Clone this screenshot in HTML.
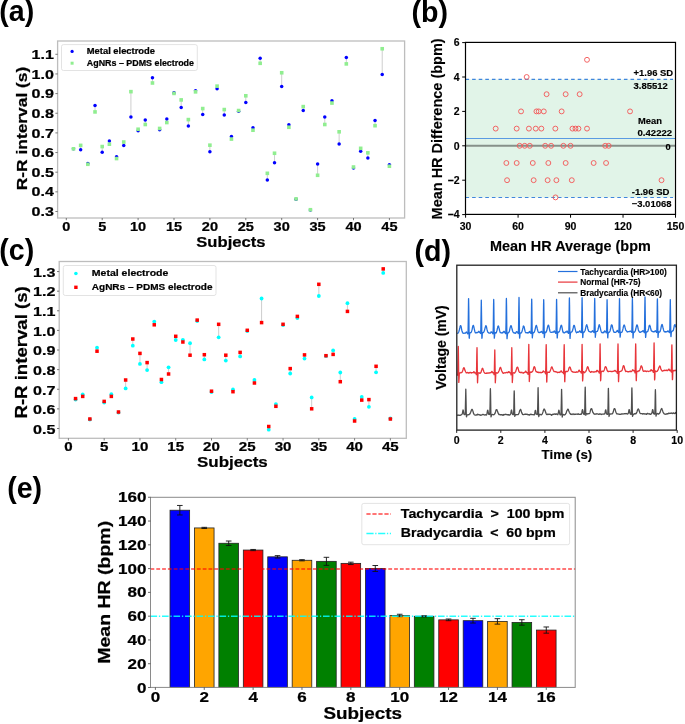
<!DOCTYPE html>
<html><head><meta charset="utf-8"><style>
html,body{margin:0;padding:0;background:#fff;}
svg{display:block;will-change:transform;}
text{font-family:"Liberation Sans",sans-serif;font-weight:bold;}
text.mpl{stroke:#000;stroke-width:0.22px;}
text.arl{stroke:#000;stroke-width:0.15px;}
</style></head><body>
<svg width="685" height="724" viewBox="0 0 685 724">
<rect x="0" y="0" width="685" height="724" fill="#fff"/>
<text x="-0.80" y="21.30" font-size="28.6" text-anchor="start" fill="#000" >(a)</text>
<text x="411.40" y="21.50" font-size="28.6" text-anchor="start" fill="#000" >(b)</text>
<text x="-0.70" y="259.60" font-size="28.6" text-anchor="start" fill="#000" >(c)</text>
<text x="414.60" y="260.70" font-size="28.6" text-anchor="start" fill="#000" >(d)</text>
<text x="7.20" y="498.00" font-size="28.6" text-anchor="start" fill="#000" >(e)</text>
<line x1="80.66" y1="149.70" x2="80.66" y2="145.38" stroke="#c8c8c8" stroke-width="0.9" />
<line x1="87.84" y1="163.56" x2="87.84" y2="164.27" stroke="#c8c8c8" stroke-width="0.9" />
<line x1="95.02" y1="105.62" x2="95.02" y2="111.92" stroke="#c8c8c8" stroke-width="0.9" />
<line x1="102.20" y1="152.26" x2="102.20" y2="146.56" stroke="#c8c8c8" stroke-width="0.9" />
<line x1="109.38" y1="141.05" x2="109.38" y2="144.19" stroke="#c8c8c8" stroke-width="0.9" />
<line x1="116.56" y1="156.79" x2="116.56" y2="158.56" stroke="#c8c8c8" stroke-width="0.9" />
<line x1="123.74" y1="145.38" x2="123.74" y2="142.03" stroke="#c8c8c8" stroke-width="0.9" />
<line x1="130.92" y1="117.04" x2="130.92" y2="91.65" stroke="#c8c8c8" stroke-width="0.9" />
<line x1="138.10" y1="130.81" x2="138.10" y2="129.24" stroke="#c8c8c8" stroke-width="0.9" />
<line x1="145.28" y1="119.99" x2="145.28" y2="124.51" stroke="#c8c8c8" stroke-width="0.9" />
<line x1="152.46" y1="77.87" x2="152.46" y2="82.99" stroke="#c8c8c8" stroke-width="0.9" />
<line x1="159.64" y1="129.63" x2="159.64" y2="128.45" stroke="#c8c8c8" stroke-width="0.9" />
<line x1="166.82" y1="119.00" x2="166.82" y2="122.55" stroke="#c8c8c8" stroke-width="0.9" />
<line x1="174.00" y1="92.63" x2="174.00" y2="93.42" stroke="#c8c8c8" stroke-width="0.9" />
<line x1="181.18" y1="107.39" x2="181.18" y2="99.91" stroke="#c8c8c8" stroke-width="0.9" />
<line x1="188.36" y1="126.09" x2="188.36" y2="119.59" stroke="#c8c8c8" stroke-width="0.9" />
<line x1="195.54" y1="90.86" x2="195.54" y2="91.85" stroke="#c8c8c8" stroke-width="0.9" />
<line x1="202.72" y1="114.48" x2="202.72" y2="108.57" stroke="#c8c8c8" stroke-width="0.9" />
<line x1="209.90" y1="151.87" x2="209.90" y2="145.18" stroke="#c8c8c8" stroke-width="0.9" />
<line x1="217.08" y1="88.70" x2="217.08" y2="86.14" stroke="#c8c8c8" stroke-width="0.9" />
<line x1="224.26" y1="115.07" x2="224.26" y2="109.56" stroke="#c8c8c8" stroke-width="0.9" />
<line x1="231.44" y1="136.52" x2="231.44" y2="139.08" stroke="#c8c8c8" stroke-width="0.9" />
<line x1="238.62" y1="111.33" x2="238.62" y2="110.54" stroke="#c8c8c8" stroke-width="0.9" />
<line x1="245.80" y1="102.47" x2="245.80" y2="95.78" stroke="#c8c8c8" stroke-width="0.9" />
<line x1="252.98" y1="127.66" x2="252.98" y2="130.22" stroke="#c8c8c8" stroke-width="0.9" />
<line x1="260.16" y1="58.19" x2="260.16" y2="63.31" stroke="#c8c8c8" stroke-width="0.9" />
<line x1="267.34" y1="180.01" x2="267.34" y2="173.32" stroke="#c8c8c8" stroke-width="0.9" />
<line x1="274.52" y1="162.69" x2="274.52" y2="153.25" stroke="#c8c8c8" stroke-width="0.9" />
<line x1="281.70" y1="86.53" x2="281.70" y2="72.76" stroke="#c8c8c8" stroke-width="0.9" />
<line x1="288.88" y1="124.71" x2="288.88" y2="127.27" stroke="#c8c8c8" stroke-width="0.9" />
<line x1="303.24" y1="110.54" x2="303.24" y2="106.61" stroke="#c8c8c8" stroke-width="0.9" />
<line x1="317.60" y1="164.07" x2="317.60" y2="175.29" stroke="#c8c8c8" stroke-width="0.9" />
<line x1="324.78" y1="117.04" x2="324.78" y2="124.51" stroke="#c8c8c8" stroke-width="0.9" />
<line x1="331.96" y1="100.70" x2="331.96" y2="103.06" stroke="#c8c8c8" stroke-width="0.9" />
<line x1="339.14" y1="144.00" x2="339.14" y2="131.80" stroke="#c8c8c8" stroke-width="0.9" />
<line x1="346.32" y1="57.60" x2="346.32" y2="63.90" stroke="#c8c8c8" stroke-width="0.9" />
<line x1="353.50" y1="168.01" x2="353.50" y2="167.02" stroke="#c8c8c8" stroke-width="0.9" />
<line x1="360.68" y1="151.28" x2="360.68" y2="148.33" stroke="#c8c8c8" stroke-width="0.9" />
<line x1="367.86" y1="157.97" x2="367.86" y2="152.85" stroke="#c8c8c8" stroke-width="0.9" />
<line x1="375.04" y1="120.58" x2="375.04" y2="125.70" stroke="#c8c8c8" stroke-width="0.9" />
<line x1="382.22" y1="74.53" x2="382.22" y2="48.75" stroke="#c8c8c8" stroke-width="0.9" />
<line x1="389.40" y1="164.66" x2="389.40" y2="166.24" stroke="#c8c8c8" stroke-width="0.9" />
<circle cx="73.48" cy="148.80" r="1.75" fill="#0000ff"/>
<circle cx="80.66" cy="149.70" r="1.75" fill="#0000ff"/>
<circle cx="87.84" cy="163.56" r="1.75" fill="#0000ff"/>
<circle cx="95.02" cy="105.62" r="1.75" fill="#0000ff"/>
<circle cx="102.20" cy="152.26" r="1.75" fill="#0000ff"/>
<circle cx="109.38" cy="141.05" r="1.75" fill="#0000ff"/>
<circle cx="116.56" cy="156.79" r="1.75" fill="#0000ff"/>
<circle cx="123.74" cy="145.38" r="1.75" fill="#0000ff"/>
<circle cx="130.92" cy="117.04" r="1.75" fill="#0000ff"/>
<circle cx="138.10" cy="130.81" r="1.75" fill="#0000ff"/>
<circle cx="145.28" cy="119.99" r="1.75" fill="#0000ff"/>
<circle cx="152.46" cy="77.87" r="1.75" fill="#0000ff"/>
<circle cx="159.64" cy="129.63" r="1.75" fill="#0000ff"/>
<circle cx="166.82" cy="119.00" r="1.75" fill="#0000ff"/>
<circle cx="174.00" cy="92.63" r="1.75" fill="#0000ff"/>
<circle cx="181.18" cy="107.39" r="1.75" fill="#0000ff"/>
<circle cx="188.36" cy="126.09" r="1.75" fill="#0000ff"/>
<circle cx="195.54" cy="90.86" r="1.75" fill="#0000ff"/>
<circle cx="202.72" cy="114.48" r="1.75" fill="#0000ff"/>
<circle cx="209.90" cy="151.87" r="1.75" fill="#0000ff"/>
<circle cx="217.08" cy="88.70" r="1.75" fill="#0000ff"/>
<circle cx="224.26" cy="115.07" r="1.75" fill="#0000ff"/>
<circle cx="231.44" cy="136.52" r="1.75" fill="#0000ff"/>
<circle cx="238.62" cy="111.33" r="1.75" fill="#0000ff"/>
<circle cx="245.80" cy="102.47" r="1.75" fill="#0000ff"/>
<circle cx="252.98" cy="127.66" r="1.75" fill="#0000ff"/>
<circle cx="260.16" cy="58.19" r="1.75" fill="#0000ff"/>
<circle cx="267.34" cy="180.01" r="1.75" fill="#0000ff"/>
<circle cx="274.52" cy="162.69" r="1.75" fill="#0000ff"/>
<circle cx="281.70" cy="86.53" r="1.75" fill="#0000ff"/>
<circle cx="288.88" cy="124.71" r="1.75" fill="#0000ff"/>
<circle cx="296.06" cy="199.30" r="1.75" fill="#0000ff"/>
<circle cx="303.24" cy="110.54" r="1.75" fill="#0000ff"/>
<circle cx="310.42" cy="210.12" r="1.75" fill="#0000ff"/>
<circle cx="317.60" cy="164.07" r="1.75" fill="#0000ff"/>
<circle cx="324.78" cy="117.04" r="1.75" fill="#0000ff"/>
<circle cx="331.96" cy="100.70" r="1.75" fill="#0000ff"/>
<circle cx="339.14" cy="144.00" r="1.75" fill="#0000ff"/>
<circle cx="346.32" cy="57.60" r="1.75" fill="#0000ff"/>
<circle cx="353.50" cy="168.01" r="1.75" fill="#0000ff"/>
<circle cx="360.68" cy="151.28" r="1.75" fill="#0000ff"/>
<circle cx="367.86" cy="157.97" r="1.75" fill="#0000ff"/>
<circle cx="375.04" cy="120.58" r="1.75" fill="#0000ff"/>
<circle cx="382.22" cy="74.53" r="1.75" fill="#0000ff"/>
<circle cx="389.40" cy="164.66" r="1.75" fill="#0000ff"/>
<rect x="71.68" y="147.00" width="3.60" height="3.60" fill="#90ee90" stroke="none" stroke-width="1" />
<rect x="78.86" y="143.58" width="3.60" height="3.60" fill="#90ee90" stroke="none" stroke-width="1" />
<rect x="86.04" y="162.47" width="3.60" height="3.60" fill="#90ee90" stroke="none" stroke-width="1" />
<rect x="93.22" y="110.12" width="3.60" height="3.60" fill="#90ee90" stroke="none" stroke-width="1" />
<rect x="100.40" y="144.76" width="3.60" height="3.60" fill="#90ee90" stroke="none" stroke-width="1" />
<rect x="107.58" y="142.39" width="3.60" height="3.60" fill="#90ee90" stroke="none" stroke-width="1" />
<rect x="114.76" y="156.76" width="3.60" height="3.60" fill="#90ee90" stroke="none" stroke-width="1" />
<rect x="121.94" y="140.23" width="3.60" height="3.60" fill="#90ee90" stroke="none" stroke-width="1" />
<rect x="129.12" y="89.85" width="3.60" height="3.60" fill="#90ee90" stroke="none" stroke-width="1" />
<rect x="136.30" y="127.44" width="3.60" height="3.60" fill="#90ee90" stroke="none" stroke-width="1" />
<rect x="143.48" y="122.71" width="3.60" height="3.60" fill="#90ee90" stroke="none" stroke-width="1" />
<rect x="150.66" y="81.19" width="3.60" height="3.60" fill="#90ee90" stroke="none" stroke-width="1" />
<rect x="157.84" y="126.65" width="3.60" height="3.60" fill="#90ee90" stroke="none" stroke-width="1" />
<rect x="165.02" y="120.75" width="3.60" height="3.60" fill="#90ee90" stroke="none" stroke-width="1" />
<rect x="172.20" y="91.62" width="3.60" height="3.60" fill="#90ee90" stroke="none" stroke-width="1" />
<rect x="179.38" y="98.11" width="3.60" height="3.60" fill="#90ee90" stroke="none" stroke-width="1" />
<rect x="186.56" y="117.79" width="3.60" height="3.60" fill="#90ee90" stroke="none" stroke-width="1" />
<rect x="193.74" y="90.05" width="3.60" height="3.60" fill="#90ee90" stroke="none" stroke-width="1" />
<rect x="200.92" y="106.77" width="3.60" height="3.60" fill="#90ee90" stroke="none" stroke-width="1" />
<rect x="208.10" y="143.38" width="3.60" height="3.60" fill="#90ee90" stroke="none" stroke-width="1" />
<rect x="215.28" y="84.34" width="3.60" height="3.60" fill="#90ee90" stroke="none" stroke-width="1" />
<rect x="222.46" y="107.76" width="3.60" height="3.60" fill="#90ee90" stroke="none" stroke-width="1" />
<rect x="229.64" y="137.28" width="3.60" height="3.60" fill="#90ee90" stroke="none" stroke-width="1" />
<rect x="236.82" y="108.74" width="3.60" height="3.60" fill="#90ee90" stroke="none" stroke-width="1" />
<rect x="244.00" y="93.98" width="3.60" height="3.60" fill="#90ee90" stroke="none" stroke-width="1" />
<rect x="251.18" y="128.42" width="3.60" height="3.60" fill="#90ee90" stroke="none" stroke-width="1" />
<rect x="258.36" y="61.51" width="3.60" height="3.60" fill="#90ee90" stroke="none" stroke-width="1" />
<rect x="265.54" y="171.52" width="3.60" height="3.60" fill="#90ee90" stroke="none" stroke-width="1" />
<rect x="272.72" y="151.45" width="3.60" height="3.60" fill="#90ee90" stroke="none" stroke-width="1" />
<rect x="279.90" y="70.96" width="3.60" height="3.60" fill="#90ee90" stroke="none" stroke-width="1" />
<rect x="287.08" y="125.47" width="3.60" height="3.60" fill="#90ee90" stroke="none" stroke-width="1" />
<rect x="294.26" y="197.10" width="3.60" height="3.60" fill="#90ee90" stroke="none" stroke-width="1" />
<rect x="301.44" y="104.81" width="3.60" height="3.60" fill="#90ee90" stroke="none" stroke-width="1" />
<rect x="308.62" y="207.93" width="3.60" height="3.60" fill="#90ee90" stroke="none" stroke-width="1" />
<rect x="315.80" y="173.49" width="3.60" height="3.60" fill="#90ee90" stroke="none" stroke-width="1" />
<rect x="322.98" y="122.71" width="3.60" height="3.60" fill="#90ee90" stroke="none" stroke-width="1" />
<rect x="330.16" y="101.26" width="3.60" height="3.60" fill="#90ee90" stroke="none" stroke-width="1" />
<rect x="337.34" y="130.00" width="3.60" height="3.60" fill="#90ee90" stroke="none" stroke-width="1" />
<rect x="344.52" y="62.10" width="3.60" height="3.60" fill="#90ee90" stroke="none" stroke-width="1" />
<rect x="351.70" y="165.22" width="3.60" height="3.60" fill="#90ee90" stroke="none" stroke-width="1" />
<rect x="358.88" y="146.53" width="3.60" height="3.60" fill="#90ee90" stroke="none" stroke-width="1" />
<rect x="366.06" y="151.05" width="3.60" height="3.60" fill="#90ee90" stroke="none" stroke-width="1" />
<rect x="373.24" y="123.90" width="3.60" height="3.60" fill="#90ee90" stroke="none" stroke-width="1" />
<rect x="380.42" y="46.95" width="3.60" height="3.60" fill="#90ee90" stroke="none" stroke-width="1" />
<rect x="387.60" y="164.44" width="3.60" height="3.60" fill="#90ee90" stroke="none" stroke-width="1" />
<rect x="57.60" y="41.00" width="347.00" height="177.00" fill="none" stroke="#bdbdbd" stroke-width="1.3" />
<line x1="66.30" y1="218.00" x2="66.30" y2="220.20" stroke="#444" stroke-width="0.7" />
<text x="66.30" y="231.00" font-size="11.9" text-anchor="middle" textLength="8.10" lengthAdjust="spacingAndGlyphs" fill="#000"  class="mpl">0</text>
<line x1="102.20" y1="218.00" x2="102.20" y2="220.20" stroke="#444" stroke-width="0.7" />
<text x="102.20" y="231.00" font-size="11.9" text-anchor="middle" textLength="8.10" lengthAdjust="spacingAndGlyphs" fill="#000"  class="mpl">5</text>
<line x1="138.10" y1="218.00" x2="138.10" y2="220.20" stroke="#444" stroke-width="0.7" />
<text x="138.10" y="231.00" font-size="11.9" text-anchor="middle" textLength="16.20" lengthAdjust="spacingAndGlyphs" fill="#000"  class="mpl">10</text>
<line x1="174.00" y1="218.00" x2="174.00" y2="220.20" stroke="#444" stroke-width="0.7" />
<text x="174.00" y="231.00" font-size="11.9" text-anchor="middle" textLength="16.20" lengthAdjust="spacingAndGlyphs" fill="#000"  class="mpl">15</text>
<line x1="209.90" y1="218.00" x2="209.90" y2="220.20" stroke="#444" stroke-width="0.7" />
<text x="209.90" y="231.00" font-size="11.9" text-anchor="middle" textLength="16.20" lengthAdjust="spacingAndGlyphs" fill="#000"  class="mpl">20</text>
<line x1="245.80" y1="218.00" x2="245.80" y2="220.20" stroke="#444" stroke-width="0.7" />
<text x="245.80" y="231.00" font-size="11.9" text-anchor="middle" textLength="16.20" lengthAdjust="spacingAndGlyphs" fill="#000"  class="mpl">25</text>
<line x1="281.70" y1="218.00" x2="281.70" y2="220.20" stroke="#444" stroke-width="0.7" />
<text x="281.70" y="231.00" font-size="11.9" text-anchor="middle" textLength="16.20" lengthAdjust="spacingAndGlyphs" fill="#000"  class="mpl">30</text>
<line x1="317.60" y1="218.00" x2="317.60" y2="220.20" stroke="#444" stroke-width="0.7" />
<text x="317.60" y="231.00" font-size="11.9" text-anchor="middle" textLength="16.20" lengthAdjust="spacingAndGlyphs" fill="#000"  class="mpl">35</text>
<line x1="353.50" y1="218.00" x2="353.50" y2="220.20" stroke="#444" stroke-width="0.7" />
<text x="353.50" y="231.00" font-size="11.9" text-anchor="middle" textLength="16.20" lengthAdjust="spacingAndGlyphs" fill="#000"  class="mpl">40</text>
<line x1="389.40" y1="218.00" x2="389.40" y2="220.20" stroke="#444" stroke-width="0.7" />
<text x="389.40" y="231.00" font-size="11.9" text-anchor="middle" textLength="16.20" lengthAdjust="spacingAndGlyphs" fill="#000"  class="mpl">45</text>
<line x1="55.40" y1="211.50" x2="57.60" y2="211.50" stroke="#444" stroke-width="0.7" />
<text x="53.80" y="216.10" font-size="11.9" text-anchor="end" textLength="22.30" lengthAdjust="spacingAndGlyphs" fill="#000"  class="mpl">0.3</text>
<line x1="55.40" y1="191.85" x2="57.60" y2="191.85" stroke="#444" stroke-width="0.7" />
<text x="53.80" y="196.45" font-size="11.9" text-anchor="end" textLength="22.30" lengthAdjust="spacingAndGlyphs" fill="#000"  class="mpl">0.4</text>
<line x1="55.40" y1="172.20" x2="57.60" y2="172.20" stroke="#444" stroke-width="0.7" />
<text x="53.80" y="176.80" font-size="11.9" text-anchor="end" textLength="22.30" lengthAdjust="spacingAndGlyphs" fill="#000"  class="mpl">0.5</text>
<line x1="55.40" y1="152.55" x2="57.60" y2="152.55" stroke="#444" stroke-width="0.7" />
<text x="53.80" y="157.15" font-size="11.9" text-anchor="end" textLength="22.30" lengthAdjust="spacingAndGlyphs" fill="#000"  class="mpl">0.6</text>
<line x1="55.40" y1="132.90" x2="57.60" y2="132.90" stroke="#444" stroke-width="0.7" />
<text x="53.80" y="137.50" font-size="11.9" text-anchor="end" textLength="22.30" lengthAdjust="spacingAndGlyphs" fill="#000"  class="mpl">0.7</text>
<line x1="55.40" y1="113.25" x2="57.60" y2="113.25" stroke="#444" stroke-width="0.7" />
<text x="53.80" y="117.85" font-size="11.9" text-anchor="end" textLength="22.30" lengthAdjust="spacingAndGlyphs" fill="#000"  class="mpl">0.8</text>
<line x1="55.40" y1="93.60" x2="57.60" y2="93.60" stroke="#444" stroke-width="0.7" />
<text x="53.80" y="98.20" font-size="11.9" text-anchor="end" textLength="22.30" lengthAdjust="spacingAndGlyphs" fill="#000"  class="mpl">0.9</text>
<line x1="55.40" y1="73.95" x2="57.60" y2="73.95" stroke="#444" stroke-width="0.7" />
<text x="53.80" y="78.55" font-size="11.9" text-anchor="end" textLength="22.30" lengthAdjust="spacingAndGlyphs" fill="#000"  class="mpl">1.0</text>
<line x1="55.40" y1="54.30" x2="57.60" y2="54.30" stroke="#444" stroke-width="0.7" />
<text x="53.80" y="58.90" font-size="11.9" text-anchor="end" textLength="22.30" lengthAdjust="spacingAndGlyphs" fill="#000"  class="mpl">1.1</text>
<rect x="61.5" y="44.6" width="135.8" height="25.9" rx="2" ry="2" fill="#fff" fill-opacity="0.8" stroke="#dcdcdc" stroke-width="0.8"/>
<circle cx="72.1" cy="51.4" r="1.6" fill="#0000ff"/>
<rect x="70.60" y="61.70" width="3.00" height="3.00" fill="#90ee90" stroke="none" stroke-width="1" />
<text x="86.80" y="54.00" font-size="8.9" text-anchor="start" textLength="68.20" lengthAdjust="spacingAndGlyphs" fill="#000"  class="mpl">Metal electrode</text>
<text x="86.80" y="65.50" font-size="8.9" text-anchor="start" textLength="107.20" lengthAdjust="spacingAndGlyphs" fill="#000"  class="mpl">AgNRs – PDMS electrode</text>
<text transform="translate(26.70,128.45) rotate(-90)" x="0" y="0" font-size="14.7" text-anchor="middle" textLength="123.50" lengthAdjust="spacingAndGlyphs" fill="#000"  class="mpl">R-R interval (s)</text>
<text x="196.30" y="247.10" font-size="15.2" text-anchor="start" textLength="69.20" lengthAdjust="spacingAndGlyphs" fill="#000"  class="mpl">Subjects</text>
<line x1="75.56" y1="399.50" x2="75.56" y2="398.60" stroke="#c8c8c8" stroke-width="0.9" />
<line x1="82.71" y1="394.40" x2="82.71" y2="396.40" stroke="#c8c8c8" stroke-width="0.9" />
<line x1="97.02" y1="347.70" x2="97.02" y2="351.20" stroke="#c8c8c8" stroke-width="0.9" />
<line x1="104.18" y1="402.50" x2="104.18" y2="401.40" stroke="#c8c8c8" stroke-width="0.9" />
<line x1="111.33" y1="394.20" x2="111.33" y2="396.40" stroke="#c8c8c8" stroke-width="0.9" />
<line x1="125.64" y1="388.40" x2="125.64" y2="380.00" stroke="#c8c8c8" stroke-width="0.9" />
<line x1="132.80" y1="345.70" x2="132.80" y2="339.00" stroke="#c8c8c8" stroke-width="0.9" />
<line x1="139.95" y1="363.90" x2="139.95" y2="353.40" stroke="#c8c8c8" stroke-width="0.9" />
<line x1="147.11" y1="370.10" x2="147.11" y2="362.60" stroke="#c8c8c8" stroke-width="0.9" />
<line x1="154.26" y1="321.60" x2="154.26" y2="324.80" stroke="#c8c8c8" stroke-width="0.9" />
<line x1="161.42" y1="382.20" x2="161.42" y2="379.50" stroke="#c8c8c8" stroke-width="0.9" />
<line x1="168.57" y1="367.30" x2="168.57" y2="374.00" stroke="#c8c8c8" stroke-width="0.9" />
<line x1="175.73" y1="340.00" x2="175.73" y2="336.30" stroke="#c8c8c8" stroke-width="0.9" />
<line x1="182.88" y1="339.80" x2="182.88" y2="342.00" stroke="#c8c8c8" stroke-width="0.9" />
<line x1="190.04" y1="343.20" x2="190.04" y2="355.20" stroke="#c8c8c8" stroke-width="0.9" />
<line x1="197.19" y1="321.00" x2="197.19" y2="320.10" stroke="#c8c8c8" stroke-width="0.9" />
<line x1="204.34" y1="359.40" x2="204.34" y2="354.70" stroke="#c8c8c8" stroke-width="0.9" />
<line x1="211.50" y1="392.00" x2="211.50" y2="391.20" stroke="#c8c8c8" stroke-width="0.9" />
<line x1="218.66" y1="337.30" x2="218.66" y2="324.30" stroke="#c8c8c8" stroke-width="0.9" />
<line x1="225.81" y1="360.60" x2="225.81" y2="355.20" stroke="#c8c8c8" stroke-width="0.9" />
<line x1="232.97" y1="389.40" x2="232.97" y2="391.70" stroke="#c8c8c8" stroke-width="0.9" />
<line x1="240.12" y1="356.40" x2="240.12" y2="352.40" stroke="#c8c8c8" stroke-width="0.9" />
<line x1="247.28" y1="331.00" x2="247.28" y2="330.30" stroke="#c8c8c8" stroke-width="0.9" />
<line x1="254.43" y1="380.00" x2="254.43" y2="383.00" stroke="#c8c8c8" stroke-width="0.9" />
<line x1="261.59" y1="298.50" x2="261.59" y2="322.60" stroke="#c8c8c8" stroke-width="0.9" />
<line x1="268.74" y1="429.70" x2="268.74" y2="426.50" stroke="#c8c8c8" stroke-width="0.9" />
<line x1="275.89" y1="404.10" x2="275.89" y2="406.30" stroke="#c8c8c8" stroke-width="0.9" />
<line x1="283.05" y1="325.00" x2="283.05" y2="324.30" stroke="#c8c8c8" stroke-width="0.9" />
<line x1="290.21" y1="373.50" x2="290.21" y2="368.60" stroke="#c8c8c8" stroke-width="0.9" />
<line x1="297.36" y1="318.10" x2="297.36" y2="316.40" stroke="#c8c8c8" stroke-width="0.9" />
<line x1="304.51" y1="358.60" x2="304.51" y2="354.90" stroke="#c8c8c8" stroke-width="0.9" />
<line x1="311.67" y1="397.40" x2="311.67" y2="408.80" stroke="#c8c8c8" stroke-width="0.9" />
<line x1="318.83" y1="296.00" x2="318.83" y2="284.30" stroke="#c8c8c8" stroke-width="0.9" />
<line x1="333.13" y1="350.40" x2="333.13" y2="354.40" stroke="#c8c8c8" stroke-width="0.9" />
<line x1="340.29" y1="372.50" x2="340.29" y2="381.70" stroke="#c8c8c8" stroke-width="0.9" />
<line x1="347.45" y1="303.20" x2="347.45" y2="311.40" stroke="#c8c8c8" stroke-width="0.9" />
<line x1="354.60" y1="419.00" x2="354.60" y2="421.00" stroke="#c8c8c8" stroke-width="0.9" />
<line x1="361.75" y1="396.90" x2="361.75" y2="400.10" stroke="#c8c8c8" stroke-width="0.9" />
<line x1="368.91" y1="406.80" x2="368.91" y2="399.60" stroke="#c8c8c8" stroke-width="0.9" />
<line x1="376.07" y1="372.30" x2="376.07" y2="366.30" stroke="#c8c8c8" stroke-width="0.9" />
<line x1="383.22" y1="272.90" x2="383.22" y2="268.90" stroke="#c8c8c8" stroke-width="0.9" />
<circle cx="75.56" cy="399.50" r="1.9" fill="#00ffff"/>
<circle cx="82.71" cy="394.40" r="1.9" fill="#00ffff"/>
<circle cx="89.87" cy="419.50" r="1.9" fill="#00ffff"/>
<circle cx="97.02" cy="347.70" r="1.9" fill="#00ffff"/>
<circle cx="104.18" cy="402.50" r="1.9" fill="#00ffff"/>
<circle cx="111.33" cy="394.20" r="1.9" fill="#00ffff"/>
<circle cx="118.49" cy="412.50" r="1.9" fill="#00ffff"/>
<circle cx="125.64" cy="388.40" r="1.9" fill="#00ffff"/>
<circle cx="132.80" cy="345.70" r="1.9" fill="#00ffff"/>
<circle cx="139.95" cy="363.90" r="1.9" fill="#00ffff"/>
<circle cx="147.11" cy="370.10" r="1.9" fill="#00ffff"/>
<circle cx="154.26" cy="321.60" r="1.9" fill="#00ffff"/>
<circle cx="161.42" cy="382.20" r="1.9" fill="#00ffff"/>
<circle cx="168.57" cy="367.30" r="1.9" fill="#00ffff"/>
<circle cx="175.73" cy="340.00" r="1.9" fill="#00ffff"/>
<circle cx="182.88" cy="339.80" r="1.9" fill="#00ffff"/>
<circle cx="190.04" cy="343.20" r="1.9" fill="#00ffff"/>
<circle cx="197.19" cy="321.00" r="1.9" fill="#00ffff"/>
<circle cx="204.34" cy="359.40" r="1.9" fill="#00ffff"/>
<circle cx="211.50" cy="392.00" r="1.9" fill="#00ffff"/>
<circle cx="218.66" cy="337.30" r="1.9" fill="#00ffff"/>
<circle cx="225.81" cy="360.60" r="1.9" fill="#00ffff"/>
<circle cx="232.97" cy="389.40" r="1.9" fill="#00ffff"/>
<circle cx="240.12" cy="356.40" r="1.9" fill="#00ffff"/>
<circle cx="247.28" cy="331.00" r="1.9" fill="#00ffff"/>
<circle cx="254.43" cy="380.00" r="1.9" fill="#00ffff"/>
<circle cx="261.59" cy="298.50" r="1.9" fill="#00ffff"/>
<circle cx="268.74" cy="429.70" r="1.9" fill="#00ffff"/>
<circle cx="275.89" cy="404.10" r="1.9" fill="#00ffff"/>
<circle cx="283.05" cy="325.00" r="1.9" fill="#00ffff"/>
<circle cx="290.21" cy="373.50" r="1.9" fill="#00ffff"/>
<circle cx="297.36" cy="318.10" r="1.9" fill="#00ffff"/>
<circle cx="304.51" cy="358.60" r="1.9" fill="#00ffff"/>
<circle cx="311.67" cy="397.40" r="1.9" fill="#00ffff"/>
<circle cx="318.83" cy="296.00" r="1.9" fill="#00ffff"/>
<circle cx="325.98" cy="356.00" r="1.9" fill="#00ffff"/>
<circle cx="333.13" cy="350.40" r="1.9" fill="#00ffff"/>
<circle cx="340.29" cy="372.50" r="1.9" fill="#00ffff"/>
<circle cx="347.45" cy="303.20" r="1.9" fill="#00ffff"/>
<circle cx="354.60" cy="419.00" r="1.9" fill="#00ffff"/>
<circle cx="361.75" cy="396.90" r="1.9" fill="#00ffff"/>
<circle cx="368.91" cy="406.80" r="1.9" fill="#00ffff"/>
<circle cx="376.07" cy="372.30" r="1.9" fill="#00ffff"/>
<circle cx="383.22" cy="272.90" r="1.9" fill="#00ffff"/>
<circle cx="390.38" cy="418.50" r="1.9" fill="#00ffff"/>
<rect x="73.81" y="396.85" width="3.50" height="3.50" fill="#ff0000" stroke="none" stroke-width="1" />
<rect x="80.96" y="394.65" width="3.50" height="3.50" fill="#ff0000" stroke="none" stroke-width="1" />
<rect x="88.12" y="417.25" width="3.50" height="3.50" fill="#ff0000" stroke="none" stroke-width="1" />
<rect x="95.27" y="349.45" width="3.50" height="3.50" fill="#ff0000" stroke="none" stroke-width="1" />
<rect x="102.43" y="399.65" width="3.50" height="3.50" fill="#ff0000" stroke="none" stroke-width="1" />
<rect x="109.58" y="394.65" width="3.50" height="3.50" fill="#ff0000" stroke="none" stroke-width="1" />
<rect x="116.74" y="410.25" width="3.50" height="3.50" fill="#ff0000" stroke="none" stroke-width="1" />
<rect x="123.89" y="378.25" width="3.50" height="3.50" fill="#ff0000" stroke="none" stroke-width="1" />
<rect x="131.05" y="337.25" width="3.50" height="3.50" fill="#ff0000" stroke="none" stroke-width="1" />
<rect x="138.20" y="351.65" width="3.50" height="3.50" fill="#ff0000" stroke="none" stroke-width="1" />
<rect x="145.36" y="360.85" width="3.50" height="3.50" fill="#ff0000" stroke="none" stroke-width="1" />
<rect x="152.51" y="323.05" width="3.50" height="3.50" fill="#ff0000" stroke="none" stroke-width="1" />
<rect x="159.67" y="377.75" width="3.50" height="3.50" fill="#ff0000" stroke="none" stroke-width="1" />
<rect x="166.82" y="372.25" width="3.50" height="3.50" fill="#ff0000" stroke="none" stroke-width="1" />
<rect x="173.98" y="334.55" width="3.50" height="3.50" fill="#ff0000" stroke="none" stroke-width="1" />
<rect x="181.13" y="340.25" width="3.50" height="3.50" fill="#ff0000" stroke="none" stroke-width="1" />
<rect x="188.29" y="353.45" width="3.50" height="3.50" fill="#ff0000" stroke="none" stroke-width="1" />
<rect x="195.44" y="318.35" width="3.50" height="3.50" fill="#ff0000" stroke="none" stroke-width="1" />
<rect x="202.59" y="352.95" width="3.50" height="3.50" fill="#ff0000" stroke="none" stroke-width="1" />
<rect x="209.75" y="389.45" width="3.50" height="3.50" fill="#ff0000" stroke="none" stroke-width="1" />
<rect x="216.91" y="322.55" width="3.50" height="3.50" fill="#ff0000" stroke="none" stroke-width="1" />
<rect x="224.06" y="353.45" width="3.50" height="3.50" fill="#ff0000" stroke="none" stroke-width="1" />
<rect x="231.22" y="389.95" width="3.50" height="3.50" fill="#ff0000" stroke="none" stroke-width="1" />
<rect x="238.37" y="350.65" width="3.50" height="3.50" fill="#ff0000" stroke="none" stroke-width="1" />
<rect x="245.53" y="328.55" width="3.50" height="3.50" fill="#ff0000" stroke="none" stroke-width="1" />
<rect x="252.68" y="381.25" width="3.50" height="3.50" fill="#ff0000" stroke="none" stroke-width="1" />
<rect x="259.84" y="320.85" width="3.50" height="3.50" fill="#ff0000" stroke="none" stroke-width="1" />
<rect x="266.99" y="424.75" width="3.50" height="3.50" fill="#ff0000" stroke="none" stroke-width="1" />
<rect x="274.14" y="404.55" width="3.50" height="3.50" fill="#ff0000" stroke="none" stroke-width="1" />
<rect x="281.30" y="322.55" width="3.50" height="3.50" fill="#ff0000" stroke="none" stroke-width="1" />
<rect x="288.46" y="366.85" width="3.50" height="3.50" fill="#ff0000" stroke="none" stroke-width="1" />
<rect x="295.61" y="314.65" width="3.50" height="3.50" fill="#ff0000" stroke="none" stroke-width="1" />
<rect x="302.76" y="353.15" width="3.50" height="3.50" fill="#ff0000" stroke="none" stroke-width="1" />
<rect x="309.92" y="407.05" width="3.50" height="3.50" fill="#ff0000" stroke="none" stroke-width="1" />
<rect x="317.08" y="282.55" width="3.50" height="3.50" fill="#ff0000" stroke="none" stroke-width="1" />
<rect x="324.23" y="353.95" width="3.50" height="3.50" fill="#ff0000" stroke="none" stroke-width="1" />
<rect x="331.38" y="352.65" width="3.50" height="3.50" fill="#ff0000" stroke="none" stroke-width="1" />
<rect x="338.54" y="379.95" width="3.50" height="3.50" fill="#ff0000" stroke="none" stroke-width="1" />
<rect x="345.70" y="309.65" width="3.50" height="3.50" fill="#ff0000" stroke="none" stroke-width="1" />
<rect x="352.85" y="419.25" width="3.50" height="3.50" fill="#ff0000" stroke="none" stroke-width="1" />
<rect x="360.00" y="398.35" width="3.50" height="3.50" fill="#ff0000" stroke="none" stroke-width="1" />
<rect x="367.16" y="397.85" width="3.50" height="3.50" fill="#ff0000" stroke="none" stroke-width="1" />
<rect x="374.32" y="364.55" width="3.50" height="3.50" fill="#ff0000" stroke="none" stroke-width="1" />
<rect x="381.47" y="267.15" width="3.50" height="3.50" fill="#ff0000" stroke="none" stroke-width="1" />
<rect x="388.62" y="417.25" width="3.50" height="3.50" fill="#ff0000" stroke="none" stroke-width="1" />
<rect x="59.20" y="261.50" width="347.10" height="176.80" fill="none" stroke="#bdbdbd" stroke-width="1.3" />
<line x1="68.40" y1="438.30" x2="68.40" y2="440.50" stroke="#444" stroke-width="0.7" />
<text x="68.40" y="450.90" font-size="12.3" text-anchor="middle" textLength="8.40" lengthAdjust="spacingAndGlyphs" fill="#000"  class="mpl">0</text>
<line x1="104.18" y1="438.30" x2="104.18" y2="440.50" stroke="#444" stroke-width="0.7" />
<text x="104.18" y="450.90" font-size="12.3" text-anchor="middle" textLength="8.40" lengthAdjust="spacingAndGlyphs" fill="#000"  class="mpl">5</text>
<line x1="139.95" y1="438.30" x2="139.95" y2="440.50" stroke="#444" stroke-width="0.7" />
<text x="139.95" y="450.90" font-size="12.3" text-anchor="middle" textLength="16.80" lengthAdjust="spacingAndGlyphs" fill="#000"  class="mpl">10</text>
<line x1="175.73" y1="438.30" x2="175.73" y2="440.50" stroke="#444" stroke-width="0.7" />
<text x="175.73" y="450.90" font-size="12.3" text-anchor="middle" textLength="16.80" lengthAdjust="spacingAndGlyphs" fill="#000"  class="mpl">15</text>
<line x1="211.50" y1="438.30" x2="211.50" y2="440.50" stroke="#444" stroke-width="0.7" />
<text x="211.50" y="450.90" font-size="12.3" text-anchor="middle" textLength="16.80" lengthAdjust="spacingAndGlyphs" fill="#000"  class="mpl">20</text>
<line x1="247.28" y1="438.30" x2="247.28" y2="440.50" stroke="#444" stroke-width="0.7" />
<text x="247.28" y="450.90" font-size="12.3" text-anchor="middle" textLength="16.80" lengthAdjust="spacingAndGlyphs" fill="#000"  class="mpl">25</text>
<line x1="283.05" y1="438.30" x2="283.05" y2="440.50" stroke="#444" stroke-width="0.7" />
<text x="283.05" y="450.90" font-size="12.3" text-anchor="middle" textLength="16.80" lengthAdjust="spacingAndGlyphs" fill="#000"  class="mpl">30</text>
<line x1="318.83" y1="438.30" x2="318.83" y2="440.50" stroke="#444" stroke-width="0.7" />
<text x="318.83" y="450.90" font-size="12.3" text-anchor="middle" textLength="16.80" lengthAdjust="spacingAndGlyphs" fill="#000"  class="mpl">35</text>
<line x1="354.60" y1="438.30" x2="354.60" y2="440.50" stroke="#444" stroke-width="0.7" />
<text x="354.60" y="450.90" font-size="12.3" text-anchor="middle" textLength="16.80" lengthAdjust="spacingAndGlyphs" fill="#000"  class="mpl">40</text>
<line x1="390.38" y1="438.30" x2="390.38" y2="440.50" stroke="#444" stroke-width="0.7" />
<text x="390.38" y="450.90" font-size="12.3" text-anchor="middle" textLength="16.80" lengthAdjust="spacingAndGlyphs" fill="#000"  class="mpl">45</text>
<line x1="57.00" y1="428.50" x2="59.20" y2="428.50" stroke="#444" stroke-width="0.7" />
<text x="55.40" y="433.80" font-size="12.3" text-anchor="end" textLength="22.40" lengthAdjust="spacingAndGlyphs" fill="#000"  class="mpl">0.5</text>
<line x1="57.00" y1="408.88" x2="59.20" y2="408.88" stroke="#444" stroke-width="0.7" />
<text x="55.40" y="414.18" font-size="12.3" text-anchor="end" textLength="22.40" lengthAdjust="spacingAndGlyphs" fill="#000"  class="mpl">0.6</text>
<line x1="57.00" y1="389.26" x2="59.20" y2="389.26" stroke="#444" stroke-width="0.7" />
<text x="55.40" y="394.56" font-size="12.3" text-anchor="end" textLength="22.40" lengthAdjust="spacingAndGlyphs" fill="#000"  class="mpl">0.7</text>
<line x1="57.00" y1="369.64" x2="59.20" y2="369.64" stroke="#444" stroke-width="0.7" />
<text x="55.40" y="374.94" font-size="12.3" text-anchor="end" textLength="22.40" lengthAdjust="spacingAndGlyphs" fill="#000"  class="mpl">0.8</text>
<line x1="57.00" y1="350.02" x2="59.20" y2="350.02" stroke="#444" stroke-width="0.7" />
<text x="55.40" y="355.32" font-size="12.3" text-anchor="end" textLength="22.40" lengthAdjust="spacingAndGlyphs" fill="#000"  class="mpl">0.9</text>
<line x1="57.00" y1="330.40" x2="59.20" y2="330.40" stroke="#444" stroke-width="0.7" />
<text x="55.40" y="335.70" font-size="12.3" text-anchor="end" textLength="22.40" lengthAdjust="spacingAndGlyphs" fill="#000"  class="mpl">1.0</text>
<line x1="57.00" y1="310.78" x2="59.20" y2="310.78" stroke="#444" stroke-width="0.7" />
<text x="55.40" y="316.08" font-size="12.3" text-anchor="end" textLength="22.40" lengthAdjust="spacingAndGlyphs" fill="#000"  class="mpl">1.1</text>
<line x1="57.00" y1="291.16" x2="59.20" y2="291.16" stroke="#444" stroke-width="0.7" />
<text x="55.40" y="296.46" font-size="12.3" text-anchor="end" textLength="22.40" lengthAdjust="spacingAndGlyphs" fill="#000"  class="mpl">1.2</text>
<line x1="57.00" y1="271.54" x2="59.20" y2="271.54" stroke="#444" stroke-width="0.7" />
<text x="55.40" y="276.84" font-size="12.3" text-anchor="end" textLength="22.40" lengthAdjust="spacingAndGlyphs" fill="#000"  class="mpl">1.3</text>
<rect x="63.3" y="265.5" width="152.7" height="30.0" rx="2" ry="2" fill="#fff" fill-opacity="0.8" stroke="#dcdcdc" stroke-width="0.8"/>
<circle cx="75.9" cy="273.5" r="1.8" fill="#00ffff"/>
<rect x="74.20" y="285.60" width="3.40" height="3.40" fill="#ff0000" stroke="none" stroke-width="1" />
<text x="91.80" y="276.00" font-size="9.9" text-anchor="start" textLength="76.60" lengthAdjust="spacingAndGlyphs" fill="#000"  class="mpl">Metal electrode</text>
<text x="91.80" y="289.80" font-size="9.9" text-anchor="start" textLength="120.70" lengthAdjust="spacingAndGlyphs" fill="#000"  class="mpl">AgNRs – PDMS electrode</text>
<text transform="translate(26.80,352.40) rotate(-90)" x="0" y="0" font-size="15.7" text-anchor="middle" textLength="132.20" lengthAdjust="spacingAndGlyphs" fill="#000"  class="mpl">R-R interval (s)</text>
<text x="197.00" y="466.60" font-size="14.9" text-anchor="start" textLength="70.80" lengthAdjust="spacingAndGlyphs" fill="#000"  class="mpl">Subjects</text>
<rect x="465.50" y="79.40" width="208.90" height="118.10" fill="#e1f4e8" stroke="none" stroke-width="1" />
<line x1="465.50" y1="79.40" x2="673.00" y2="79.40" stroke="#3f86dc" stroke-width="1.2" stroke-dasharray="3.6,3.0"/>
<line x1="465.50" y1="197.50" x2="673.00" y2="197.50" stroke="#3f86dc" stroke-width="1.2" stroke-dasharray="3.6,3.0"/>
<line x1="465.50" y1="138.50" x2="675.50" y2="138.50" stroke="#5a9ae2" stroke-width="1.2" />
<line x1="465.50" y1="145.80" x2="675.50" y2="145.80" stroke="#86918a" stroke-width="2.0" />
<circle cx="526.65" cy="77.00" r="2.45" fill="none" stroke="#f25c5c" stroke-width="0.95"/>
<circle cx="546.59" cy="94.20" r="2.45" fill="none" stroke="#f25c5c" stroke-width="0.95"/>
<circle cx="565.66" cy="94.20" r="2.45" fill="none" stroke="#f25c5c" stroke-width="0.95"/>
<circle cx="579.65" cy="94.20" r="2.45" fill="none" stroke="#f25c5c" stroke-width="0.95"/>
<circle cx="521.05" cy="111.40" r="2.45" fill="none" stroke="#f25c5c" stroke-width="0.95"/>
<circle cx="536.45" cy="111.40" r="2.45" fill="none" stroke="#f25c5c" stroke-width="0.95"/>
<circle cx="538.72" cy="111.40" r="2.45" fill="none" stroke="#f25c5c" stroke-width="0.95"/>
<circle cx="543.79" cy="111.40" r="2.45" fill="none" stroke="#f25c5c" stroke-width="0.95"/>
<circle cx="561.64" cy="111.40" r="2.45" fill="none" stroke="#f25c5c" stroke-width="0.95"/>
<circle cx="630.03" cy="111.40" r="2.45" fill="none" stroke="#f25c5c" stroke-width="0.95"/>
<circle cx="495.69" cy="128.60" r="2.45" fill="none" stroke="#f25c5c" stroke-width="0.95"/>
<circle cx="516.68" cy="128.60" r="2.45" fill="none" stroke="#f25c5c" stroke-width="0.95"/>
<circle cx="528.92" cy="128.60" r="2.45" fill="none" stroke="#f25c5c" stroke-width="0.95"/>
<circle cx="535.75" cy="128.60" r="2.45" fill="none" stroke="#f25c5c" stroke-width="0.95"/>
<circle cx="541.34" cy="128.60" r="2.45" fill="none" stroke="#f25c5c" stroke-width="0.95"/>
<circle cx="555.34" cy="128.60" r="2.45" fill="none" stroke="#f25c5c" stroke-width="0.95"/>
<circle cx="572.48" cy="128.60" r="2.45" fill="none" stroke="#f25c5c" stroke-width="0.95"/>
<circle cx="575.46" cy="128.60" r="2.45" fill="none" stroke="#f25c5c" stroke-width="0.95"/>
<circle cx="578.43" cy="128.60" r="2.45" fill="none" stroke="#f25c5c" stroke-width="0.95"/>
<circle cx="587.00" cy="128.60" r="2.45" fill="none" stroke="#f25c5c" stroke-width="0.95"/>
<circle cx="519.65" cy="145.80" r="2.45" fill="none" stroke="#f25c5c" stroke-width="0.95"/>
<circle cx="524.73" cy="145.80" r="2.45" fill="none" stroke="#f25c5c" stroke-width="0.95"/>
<circle cx="529.80" cy="145.80" r="2.45" fill="none" stroke="#f25c5c" stroke-width="0.95"/>
<circle cx="545.19" cy="145.80" r="2.45" fill="none" stroke="#f25c5c" stroke-width="0.95"/>
<circle cx="551.14" cy="145.80" r="2.45" fill="none" stroke="#f25c5c" stroke-width="0.95"/>
<circle cx="563.39" cy="145.80" r="2.45" fill="none" stroke="#f25c5c" stroke-width="0.95"/>
<circle cx="570.56" cy="145.80" r="2.45" fill="none" stroke="#f25c5c" stroke-width="0.95"/>
<circle cx="605.19" cy="145.80" r="2.45" fill="none" stroke="#f25c5c" stroke-width="0.95"/>
<circle cx="608.69" cy="145.80" r="2.45" fill="none" stroke="#f25c5c" stroke-width="0.95"/>
<circle cx="506.36" cy="163.00" r="2.45" fill="none" stroke="#f25c5c" stroke-width="0.95"/>
<circle cx="516.68" cy="163.00" r="2.45" fill="none" stroke="#f25c5c" stroke-width="0.95"/>
<circle cx="532.77" cy="163.00" r="2.45" fill="none" stroke="#f25c5c" stroke-width="0.95"/>
<circle cx="548.34" cy="163.00" r="2.45" fill="none" stroke="#f25c5c" stroke-width="0.95"/>
<circle cx="565.66" cy="163.00" r="2.45" fill="none" stroke="#f25c5c" stroke-width="0.95"/>
<circle cx="593.65" cy="163.00" r="2.45" fill="none" stroke="#f25c5c" stroke-width="0.95"/>
<circle cx="606.07" cy="163.00" r="2.45" fill="none" stroke="#f25c5c" stroke-width="0.95"/>
<circle cx="507.06" cy="180.20" r="2.45" fill="none" stroke="#f25c5c" stroke-width="0.95"/>
<circle cx="533.65" cy="180.20" r="2.45" fill="none" stroke="#f25c5c" stroke-width="0.95"/>
<circle cx="547.64" cy="180.20" r="2.45" fill="none" stroke="#f25c5c" stroke-width="0.95"/>
<circle cx="556.39" cy="180.20" r="2.45" fill="none" stroke="#f25c5c" stroke-width="0.95"/>
<circle cx="571.78" cy="180.20" r="2.45" fill="none" stroke="#f25c5c" stroke-width="0.95"/>
<circle cx="661.52" cy="180.20" r="2.45" fill="none" stroke="#f25c5c" stroke-width="0.95"/>
<circle cx="555.51" cy="197.40" r="2.45" fill="none" stroke="#f25c5c" stroke-width="0.95"/>
<circle cx="587.00" cy="59.80" r="2.45" fill="none" stroke="#f25c5c" stroke-width="0.95"/>
<rect x="465.50" y="42.40" width="210.00" height="172.00" fill="none" stroke="#000" stroke-width="1.2" />
<line x1="462.20" y1="214.60" x2="465.50" y2="214.60" stroke="#000" stroke-width="1.0" />
<text x="459.60" y="218.30" font-size="10.5" text-anchor="end" fill="#000"  class="arl">−4</text>
<line x1="462.20" y1="180.20" x2="465.50" y2="180.20" stroke="#000" stroke-width="1.0" />
<text x="459.60" y="183.90" font-size="10.5" text-anchor="end" fill="#000"  class="arl">−2</text>
<line x1="462.20" y1="145.80" x2="465.50" y2="145.80" stroke="#000" stroke-width="1.0" />
<text x="459.60" y="149.50" font-size="10.5" text-anchor="end" fill="#000"  class="arl">0</text>
<line x1="462.20" y1="111.40" x2="465.50" y2="111.40" stroke="#000" stroke-width="1.0" />
<text x="459.60" y="115.10" font-size="10.5" text-anchor="end" fill="#000"  class="arl">2</text>
<line x1="462.20" y1="77.00" x2="465.50" y2="77.00" stroke="#000" stroke-width="1.0" />
<text x="459.60" y="80.70" font-size="10.5" text-anchor="end" fill="#000"  class="arl">4</text>
<line x1="462.20" y1="42.60" x2="465.50" y2="42.60" stroke="#000" stroke-width="1.0" />
<text x="459.60" y="46.30" font-size="10.5" text-anchor="end" fill="#000"  class="arl">6</text>

<line x1="465.60" y1="214.40" x2="465.60" y2="217.70" stroke="#000" stroke-width="1.0" />
<text x="465.60" y="229.60" font-size="10.5" text-anchor="middle" fill="#000"  class="arl">30</text>
<line x1="518.08" y1="214.40" x2="518.08" y2="217.70" stroke="#000" stroke-width="1.0" />
<text x="518.08" y="229.60" font-size="10.5" text-anchor="middle" fill="#000"  class="arl">60</text>
<line x1="570.56" y1="214.40" x2="570.56" y2="217.70" stroke="#000" stroke-width="1.0" />
<text x="570.56" y="229.60" font-size="10.5" text-anchor="middle" fill="#000"  class="arl">90</text>
<line x1="623.04" y1="214.40" x2="623.04" y2="217.70" stroke="#000" stroke-width="1.0" />
<text x="623.04" y="229.60" font-size="10.5" text-anchor="middle" fill="#000"  class="arl">120</text>
<line x1="675.52" y1="214.40" x2="675.52" y2="217.70" stroke="#000" stroke-width="1.0" />
<text x="675.52" y="229.60" font-size="10.5" text-anchor="middle" fill="#000"  class="arl">150</text>
<text transform="translate(442.10,128.90) rotate(-90)" x="0" y="0" font-size="14.4" text-anchor="middle" textLength="181.00" lengthAdjust="spacingAndGlyphs" fill="#000"  class="arl">Mean HR Difference (bpm)</text>
<text x="490.00" y="251.30" font-size="14.4" text-anchor="start" textLength="160.80" lengthAdjust="spacingAndGlyphs" fill="#000"  class="arl">Mean HR Average (bpm</text>
<text x="633.60" y="76.40" font-size="9.3" text-anchor="start" textLength="39.60" lengthAdjust="spacingAndGlyphs" fill="#000"  class="arl">+1.96 SD</text>
<text x="633.60" y="88.80" font-size="9.3" text-anchor="start" textLength="34.30" lengthAdjust="spacingAndGlyphs" fill="#000"  class="arl">3.85512</text>
<text x="638.00" y="124.20" font-size="9.3" text-anchor="start" textLength="23.90" lengthAdjust="spacingAndGlyphs" fill="#000"  class="arl">Mean</text>
<text x="637.50" y="136.30" font-size="9.3" text-anchor="start" textLength="34.60" lengthAdjust="spacingAndGlyphs" fill="#000"  class="arl">0.42222</text>
<text x="665.40" y="149.70" font-size="9.3" text-anchor="start" fill="#000"  class="arl">0</text>
<text x="631.70" y="195.00" font-size="9.3" text-anchor="start" textLength="37.80" lengthAdjust="spacingAndGlyphs" fill="#000"  class="arl">-1.96 SD</text>
<text x="631.70" y="207.10" font-size="9.3" text-anchor="start" textLength="39.80" lengthAdjust="spacingAndGlyphs" fill="#000"  class="arl">−3.01068</text>
<path d="M457.30,333.24 L457.55,333.40 L457.80,333.29 L458.05,332.99 L458.30,332.61 L458.55,332.34 L458.80,331.70 L459.05,330.81 L459.30,330.01 L459.55,328.99 L459.80,327.95 L460.05,326.72 L460.30,325.96 L460.55,325.64 L460.80,325.57 L461.05,326.40 L461.30,327.50 L461.55,329.11 L461.80,330.23 L462.05,331.13 L462.30,332.07 L462.55,332.57 L462.80,333.00 L463.05,333.05 L463.30,333.14 L463.55,333.32 L463.80,333.38 L464.05,333.33 L464.30,333.07 L464.55,333.12 L464.80,333.10 L465.05,333.18 L465.30,333.11 L465.55,333.08 L465.80,332.65 L466.05,332.21 L466.30,332.08 L466.55,332.02 L466.80,332.34 L467.05,332.60 L467.30,333.15 L467.55,333.26 L467.80,333.95 L468.05,332.38 L468.30,318.47 L468.55,299.09 L468.60,298.53 L468.80,310.05 L469.05,332.73 L469.20,338.04 L469.30,338.19 L469.55,334.66 L469.80,333.35 L470.05,332.93 L470.30,332.66 L470.55,332.63 L470.80,332.67 L471.05,332.47 L471.30,332.14 L471.55,331.36 L471.80,330.67 L472.05,329.83 L472.30,328.54 L472.55,327.13 L472.80,326.09 L473.05,325.72 L473.30,325.38 L473.55,325.90 L473.80,326.66 L474.05,327.85 L474.30,329.05 L474.55,330.19 L474.80,331.37 L475.05,332.07 L475.30,332.70 L475.55,332.86 L475.80,332.87 L476.05,332.99 L476.30,332.49 L476.55,332.58 L476.80,332.67 L477.05,332.50 L477.30,332.66 L477.55,332.60 L477.80,332.21 L478.05,332.23 L478.30,331.96 L478.55,331.61 L478.80,331.31 L479.05,331.51 L479.30,331.82 L479.55,332.25 L479.80,332.66 L480.05,332.50 L480.30,333.03 L480.55,333.47 L480.80,330.67 L481.05,314.69 L481.30,300.25 L481.55,315.92 L481.80,335.45 L481.90,338.32 L482.05,337.75 L482.30,333.91 L482.55,332.67 L482.80,332.64 L483.05,332.54 L483.30,332.65 L483.55,332.28 L483.80,332.03 L484.05,331.52 L484.30,330.83 L484.55,330.18 L484.80,329.17 L485.05,328.13 L485.30,327.22 L485.55,326.50 L485.80,325.73 L486.05,325.87 L486.30,326.09 L486.55,327.06 L486.80,328.57 L487.05,329.67 L487.30,330.61 L487.55,331.45 L487.80,332.03 L488.05,332.41 L488.30,332.49 L488.55,332.83 L488.80,333.02 L489.05,332.96 L489.30,333.00 L489.55,333.08 L489.80,333.21 L490.05,333.19 L490.30,333.20 L490.55,332.95 L490.80,332.42 L491.05,331.91 L491.30,331.79 L491.55,331.97 L491.80,332.29 L492.05,332.54 L492.30,332.82 L492.55,333.22 L492.80,333.82 L493.05,333.71 L493.30,326.25 L493.55,305.90 L493.70,299.50 L493.80,302.76 L494.05,325.14 L494.30,338.15 L494.55,336.27 L494.80,333.56 L495.05,333.32 L495.30,333.08 L495.55,332.77 L495.80,332.75 L496.05,333.01 L496.30,332.64 L496.55,331.83 L496.80,331.10 L497.05,330.35 L497.30,328.95 L497.55,327.88 L497.80,326.67 L498.05,326.15 L498.30,325.96 L498.55,326.20 L498.80,327.20 L499.05,328.05 L499.30,329.02 L499.55,330.42 L499.80,331.12 L500.05,332.18 L500.30,332.55 L500.55,332.59 L500.80,332.73 L501.05,332.82 L501.30,332.87 L501.55,332.83 L501.80,333.01 L502.05,332.55 L502.30,332.50 L502.55,332.50 L502.80,332.86 L503.05,332.44 L503.30,332.28 L503.55,331.82 L503.80,331.37 L504.05,331.31 L504.30,331.55 L504.55,332.21 L504.80,332.45 L505.05,332.70 L505.30,333.05 L505.55,333.70 L505.80,332.99 L506.05,322.45 L506.30,301.21 L506.40,298.47 L506.55,305.46 L506.80,329.16 L507.00,338.22 L507.05,338.69 L507.30,335.69 L507.55,333.40 L507.80,333.01 L508.05,333.02 L508.30,332.74 L508.55,332.31 L508.80,332.29 L509.05,331.88 L509.30,331.55 L509.55,330.57 L509.80,329.08 L510.05,328.09 L510.30,327.03 L510.55,326.37 L510.80,325.80 L511.05,325.67 L511.30,326.10 L511.55,326.80 L511.80,327.88 L512.05,328.80 L512.30,330.02 L512.55,330.79 L512.80,331.43 L513.05,332.05 L513.30,332.50 L513.55,332.46 L513.80,332.91 L514.05,332.79 L514.30,332.92 L514.55,333.05 L514.80,333.01 L515.05,332.98 L515.30,333.23 L515.55,333.25 L515.80,333.11 L516.05,332.43 L516.30,331.88 L516.55,331.73 L516.80,331.68 L517.05,331.79 L517.30,332.10 L517.55,332.35 L517.80,332.64 L518.05,333.04 L518.30,333.66 L518.55,328.19 L518.80,308.53 L519.00,297.42 L519.05,298.25 L519.30,319.84 L519.55,337.03 L519.60,338.04 L519.80,336.83 L520.05,333.36 L520.30,332.96 L520.55,333.10 L520.80,333.09 L521.05,332.93 L521.30,332.86 L521.55,332.46 L521.80,332.00 L522.05,331.30 L522.30,330.33 L522.55,329.45 L522.80,328.46 L523.05,327.45 L523.30,326.14 L523.55,326.03 L523.80,326.20 L524.05,326.64 L524.30,327.56 L524.55,328.86 L524.80,330.12 L525.05,331.15 L525.30,331.83 L525.55,332.28 L525.80,332.69 L526.05,332.78 L526.30,332.66 L526.55,332.58 L526.80,332.58 L527.05,332.65 L527.30,333.04 L527.55,332.71 L527.80,332.78 L528.05,332.72 L528.30,332.71 L528.55,332.80 L528.80,332.67 L529.05,332.12 L529.30,331.64 L529.55,331.40 L529.80,331.76 L530.05,332.39 L530.30,332.55 L530.55,332.80 L530.80,333.32 L531.05,333.45 L531.30,326.07 L531.55,305.57 L531.70,299.05 L531.80,302.06 L532.05,324.93 L532.30,337.84 L532.55,335.72 L532.80,333.08 L533.05,332.52 L533.30,332.81 L533.55,332.82 L533.80,332.57 L534.05,332.24 L534.30,332.11 L534.55,331.36 L534.80,330.53 L535.05,329.60 L535.30,328.53 L535.55,327.37 L535.80,326.39 L536.05,325.59 L536.30,325.32 L536.55,325.81 L536.80,326.61 L537.05,327.53 L537.30,328.98 L537.55,329.68 L537.80,330.65 L538.05,331.49 L538.30,332.14 L538.55,332.42 L538.80,332.49 L539.05,332.66 L539.30,332.64 L539.55,332.71 L539.80,332.19 L540.05,332.32 L540.30,332.19 L540.55,332.30 L540.80,332.16 L541.05,331.86 L541.30,331.44 L541.55,331.54 L541.80,331.81 L542.05,332.24 L542.30,332.44 L542.55,332.42 L542.80,333.23 L543.05,333.44 L543.30,325.71 L543.55,306.05 L543.70,299.66 L543.80,302.80 L544.05,324.86 L544.30,337.52 L544.55,335.53 L544.80,332.71 L545.05,332.09 L545.30,332.14 L545.55,332.23 L545.80,332.48 L546.05,332.20 L546.30,331.66 L546.55,331.13 L546.80,330.56 L547.05,329.46 L547.30,328.24 L547.55,327.21 L547.80,326.19 L548.05,325.52 L548.30,325.15 L548.55,325.30 L548.80,326.02 L549.05,327.10 L549.30,328.26 L549.55,329.51 L549.80,330.59 L550.05,331.41 L550.30,331.97 L550.55,332.10 L550.80,332.09 L551.05,332.37 L551.30,332.42 L551.55,332.47 L551.80,332.27 L552.05,332.28 L552.30,332.21 L552.55,332.11 L552.80,332.07 L553.05,331.87 L553.30,331.95 L553.55,332.06 L553.80,331.62 L554.05,331.28 L554.30,330.93 L554.55,331.30 L554.80,332.07 L555.05,332.16 L555.30,332.31 L555.55,332.76 L555.80,333.41 L556.05,331.85 L556.30,318.22 L556.55,299.97 L556.60,299.45 L556.80,310.85 L557.05,332.67 L557.20,337.89 L557.30,337.90 L557.55,333.79 L557.80,332.12 L558.05,332.27 L558.30,332.25 L558.55,331.98 L558.80,332.16 L559.05,331.64 L559.30,331.54 L559.55,330.91 L559.80,330.17 L560.05,329.25 L560.30,328.11 L560.55,327.15 L560.80,326.15 L561.05,325.48 L561.30,325.28 L561.55,325.48 L561.80,326.29 L562.05,327.65 L562.30,328.98 L562.55,330.28 L562.80,331.56 L563.05,332.17 L563.30,332.54 L563.55,332.43 L563.80,332.47 L564.05,332.89 L564.30,332.91 L564.55,332.79 L564.80,332.78 L565.05,332.37 L565.30,332.23 L565.55,332.03 L565.80,331.72 L566.05,331.95 L566.30,332.05 L566.55,331.73 L566.80,331.40 L567.05,330.98 L567.30,331.22 L567.55,331.76 L567.80,332.40 L568.05,332.82 L568.30,332.95 L568.55,333.37 L568.80,332.57 L569.05,321.76 L569.30,300.89 L569.40,297.94 L569.55,304.94 L569.80,328.97 L570.00,338.06 L570.05,338.35 L570.30,335.01 L570.55,332.82 L570.80,332.38 L571.05,332.17 L571.30,332.21 L571.55,332.01 L571.80,331.79 L572.05,331.69 L572.30,331.09 L572.55,330.54 L572.80,329.49 L573.05,328.57 L573.30,327.40 L573.55,326.00 L573.80,325.57 L574.05,325.33 L574.30,325.31 L574.55,326.18 L574.80,327.33 L575.05,328.30 L575.30,329.35 L575.55,330.43 L575.80,331.39 L576.05,332.03 L576.30,332.47 L576.55,332.74 L576.80,332.28 L577.05,332.19 L577.30,332.26 L577.55,331.81 L577.80,332.05 L578.05,332.26 L578.30,332.14 L578.55,332.10 L578.80,331.92 L579.05,331.80 L579.30,331.50 L579.55,331.14 L579.80,330.80 L580.05,331.12 L580.30,331.51 L580.55,332.07 L580.80,332.30 L581.05,332.22 L581.30,332.63 L581.55,331.09 L581.80,317.25 L582.05,298.30 L582.10,297.73 L582.30,309.36 L582.55,331.67 L582.70,337.09 L582.80,337.48 L583.05,333.57 L583.30,332.30 L583.55,332.18 L583.80,332.26 L584.05,332.04 L584.30,331.92 L584.55,331.20 L584.80,330.91 L585.05,330.53 L585.30,329.62 L585.55,328.52 L585.80,327.44 L586.05,326.38 L586.30,325.36 L586.55,324.99 L586.80,324.69 L587.05,325.43 L587.30,326.10 L587.55,327.15 L587.80,328.65 L588.05,329.56 L588.30,330.19 L588.55,330.94 L588.80,331.27 L589.05,331.43 L589.30,331.56 L589.55,331.62 L589.80,331.60 L590.05,331.56 L590.30,331.99 L590.55,331.93 L590.80,332.17 L591.05,331.93 L591.30,332.06 L591.55,331.75 L591.80,331.46 L592.05,331.23 L592.30,330.86 L592.55,330.60 L592.80,330.96 L593.05,331.44 L593.30,331.87 L593.55,331.89 L593.80,332.35 L594.05,332.55 L594.30,324.85 L594.55,304.69 L594.70,298.36 L594.80,301.74 L595.05,324.33 L595.30,337.27 L595.55,334.82 L595.80,332.13 L596.05,331.76 L596.30,331.66 L596.55,331.63 L596.80,331.41 L597.05,331.39 L597.30,331.29 L597.55,330.94 L597.80,330.15 L598.05,329.52 L598.30,328.51 L598.55,327.11 L598.80,326.03 L599.05,325.01 L599.30,324.78 L599.55,325.21 L599.80,326.18 L600.05,327.12 L600.30,327.97 L600.55,329.12 L600.80,330.36 L601.05,331.10 L601.30,331.81 L601.55,332.21 L601.80,332.59 L602.05,332.68 L602.30,332.50 L602.55,332.53 L602.80,332.91 L603.05,332.68 L603.30,332.26 L603.55,332.60 L603.80,332.53 L604.05,332.16 L604.30,331.66 L604.55,330.97 L604.80,330.94 L605.05,331.17 L605.30,331.47 L605.55,331.76 L605.80,331.90 L606.05,332.32 L606.30,332.90 L606.55,331.65 L606.80,318.48 L607.05,300.46 L607.10,299.69 L607.30,310.57 L607.55,331.99 L607.70,337.51 L607.80,337.87 L608.05,333.83 L608.30,332.51 L608.55,332.35 L608.80,332.55 L609.05,332.37 L609.30,332.04 L609.55,331.92 L609.80,331.60 L610.05,330.88 L610.30,330.03 L610.55,328.99 L610.80,327.85 L611.05,326.37 L611.30,325.25 L611.55,324.78 L611.80,324.82 L612.05,325.22 L612.30,325.84 L612.55,327.29 L612.80,328.45 L613.05,329.37 L613.30,330.58 L613.55,331.40 L613.80,331.96 L614.05,332.29 L614.30,332.45 L614.55,332.26 L614.80,332.26 L615.05,332.31 L615.30,332.39 L615.55,332.42 L615.80,332.18 L616.05,332.04 L616.30,331.89 L616.55,331.63 L616.80,331.11 L617.05,330.48 L617.30,330.33 L617.55,330.82 L617.80,331.32 L618.05,331.77 L618.30,331.62 L618.55,331.98 L618.80,332.70 L619.05,327.49 L619.30,308.94 L619.50,298.57 L619.55,299.78 L619.80,319.78 L620.05,336.03 L620.10,337.14 L620.30,335.96 L620.55,332.76 L620.80,332.31 L621.05,332.38 L621.30,332.34 L621.55,332.33 L621.80,332.23 L622.05,332.06 L622.30,331.16 L622.55,330.52 L622.80,329.59 L623.05,328.48 L623.30,327.23 L623.55,326.11 L623.80,325.38 L624.05,325.03 L624.30,325.18 L624.55,325.61 L624.80,326.40 L625.05,327.50 L625.30,328.41 L625.55,329.43 L625.80,330.17 L626.05,330.52 L626.30,330.68 L626.55,331.00 L626.80,331.18 L627.05,331.77 L627.30,332.00 L627.55,331.88 L627.80,331.83 L628.05,331.70 L628.30,331.63 L628.55,331.66 L628.80,331.72 L629.05,331.63 L629.30,331.70 L629.55,331.53 L629.80,331.45 L630.05,330.90 L630.30,331.13 L630.55,331.42 L630.80,331.50 L631.05,331.71 L631.30,331.62 L631.55,332.25 L631.80,332.25 L632.05,321.87 L632.30,301.34 L632.40,298.44 L632.55,305.00 L632.80,328.58 L633.00,337.54 L633.05,337.93 L633.30,334.45 L633.55,331.94 L633.80,332.14 L634.05,332.29 L634.30,332.23 L634.55,331.97 L634.80,331.77 L635.05,331.17 L635.30,330.81 L635.55,330.05 L635.80,329.01 L636.05,327.77 L636.30,326.59 L636.55,325.62 L636.80,324.91 L637.05,324.93 L637.30,325.31 L637.55,326.07 L637.80,326.99 L638.05,328.40 L638.30,329.70 L638.55,330.66 L638.80,330.94 L639.05,331.34 L639.30,331.81 L639.55,331.95 L639.80,332.23 L640.05,332.14 L640.30,332.26 L640.55,332.30 L640.80,331.81 L641.05,331.78 L641.30,331.77 L641.55,331.68 L641.80,331.48 L642.05,331.59 L642.30,331.17 L642.55,330.96 L642.80,330.66 L643.05,330.64 L643.30,331.07 L643.55,331.51 L643.80,331.59 L644.05,332.09 L644.30,332.73 L644.55,327.44 L644.80,307.89 L645.00,296.94 L645.05,298.06 L645.30,319.39 L645.55,336.47 L645.60,337.38 L645.80,336.07 L646.05,332.62 L646.30,332.12 L646.55,331.91 L646.80,332.13 L647.05,331.78 L647.30,331.62 L647.55,331.57 L647.80,331.38 L648.05,330.53 L648.30,329.70 L648.55,328.96 L648.80,327.83 L649.05,326.19 L649.30,325.38 L649.55,325.38 L649.80,325.21 L650.05,325.95 L650.30,326.51 L650.55,327.96 L650.80,328.91 L651.05,330.04 L651.30,330.93 L651.55,330.93 L651.80,331.07 L652.05,331.42 L652.30,331.33 L652.55,331.48 L652.80,331.42 L653.05,331.76 L653.30,331.71 L653.55,331.59 L653.80,331.76 L654.05,331.95 L654.30,331.76 L654.55,331.48 L654.80,331.14 L655.05,330.76 L655.30,330.66 L655.55,331.18 L655.80,331.50 L656.05,331.49 L656.30,331.86 L656.55,332.50 L656.80,332.00 L657.05,321.65 L657.30,301.59 L657.40,298.84 L657.55,305.67 L657.80,328.35 L658.00,336.96 L658.05,337.42 L658.30,334.21 L658.55,332.22 L658.80,331.76 L659.05,331.91 L659.30,332.15 L659.55,332.14 L659.80,331.86 L660.05,331.60 L660.30,330.73 L660.55,329.85 L660.80,329.21 L661.05,327.69 L661.30,326.31 L661.55,325.49 L661.80,324.73 L662.05,324.50 L662.30,324.70 L662.55,325.87 L662.80,326.85 L663.05,328.00 L663.30,328.80 L663.55,329.93 L663.80,330.65 L664.05,331.23 L664.30,331.79 L664.55,331.93 L664.80,331.76 L665.05,331.63 L665.30,331.70 L665.55,331.97 L665.80,331.74 L666.05,331.72 L666.30,331.72 L666.55,331.85 L666.80,331.68 L667.05,331.68 L667.30,331.62 L667.55,331.22 L667.80,330.80 L668.05,330.79 L668.30,331.12 L668.55,331.71 L668.80,331.76 L669.05,332.11 L669.30,332.25 L669.55,332.63 L669.80,329.64 L670.05,313.75 L670.30,299.56 L670.55,315.35 L670.80,333.98 L670.90,336.60 L671.05,336.40 L671.30,332.62 L671.55,331.77 L671.80,331.49 L672.05,331.50 L672.30,331.02 L672.55,330.87 L672.80,330.87 L673.05,330.75 L673.30,330.42 L673.55,329.51 L673.80,328.25 L674.05,327.02 L674.30,325.58 L674.55,325.02 L674.80,324.78 L675.05,324.65 L675.30,325.53 L675.55,326.18 L675.80,327.43" fill="none" stroke="#2470dc" stroke-width="1.3" stroke-linejoin="round"/>
<path d="M457.30,374.11 L457.55,375.22 L457.80,372.86 L458.05,358.38 L458.30,346.41 L458.55,363.52 L458.80,382.40 L459.05,378.93 L459.30,373.69 L459.55,372.88 L459.80,372.85 L460.05,372.88 L460.30,372.79 L460.55,372.95 L460.80,372.91 L461.05,372.38 L461.30,372.70 L461.55,372.62 L461.80,372.38 L462.05,372.21 L462.30,371.85 L462.55,371.26 L462.80,370.36 L463.05,369.58 L463.30,368.52 L463.55,368.21 L463.80,367.66 L464.05,367.72 L464.30,368.19 L464.55,368.96 L464.80,369.78 L465.05,370.75 L465.30,370.88 L465.55,371.58 L465.80,372.07 L466.05,372.35 L466.30,372.86 L466.55,372.79 L466.80,372.86 L467.05,372.56 L467.30,372.71 L467.55,372.50 L467.80,372.34 L468.05,372.89 L468.30,373.05 L468.55,373.05 L468.80,373.08 L469.05,372.81 L469.30,372.67 L469.55,372.82 L469.80,372.49 L470.05,372.64 L470.30,372.41 L470.55,372.56 L470.80,372.45 L471.05,372.88 L471.30,373.08 L471.55,372.98 L471.80,372.65 L472.05,372.58 L472.30,372.65 L472.55,372.54 L472.80,372.66 L473.05,372.81 L473.30,372.57 L473.55,372.06 L473.80,371.77 L474.05,371.57 L474.30,372.03 L474.55,372.43 L474.80,373.07 L475.05,373.13 L475.30,372.95 L475.55,372.98 L475.80,372.91 L476.05,373.32 L476.30,374.60 L476.55,370.76 L476.80,355.07 L477.00,347.53 L477.05,348.66 L477.30,369.06 L477.50,382.28 L477.55,382.73 L477.80,377.18 L478.05,373.23 L478.30,372.87 L478.55,372.84 L478.80,372.80 L479.05,372.73 L479.30,372.84 L479.55,373.22 L479.80,373.31 L480.05,373.31 L480.30,373.20 L480.55,372.80 L480.80,372.51 L481.05,372.30 L481.30,371.27 L481.55,370.55 L481.80,369.78 L482.05,368.93 L482.30,368.39 L482.55,368.27 L482.80,368.65 L483.05,369.18 L483.30,370.01 L483.55,370.72 L483.80,371.53 L484.05,372.12 L484.30,372.59 L484.55,372.79 L484.80,373.08 L485.05,373.39 L485.30,373.32 L485.55,373.31 L485.80,373.35 L486.05,373.27 L486.30,373.37 L486.55,373.32 L486.80,373.03 L487.05,372.82 L487.30,372.97 L487.55,373.07 L487.80,373.23 L488.05,373.21 L488.30,373.18 L488.55,372.85 L488.80,373.10 L489.05,372.90 L489.30,373.08 L489.55,372.84 L489.80,372.73 L490.05,372.79 L490.30,372.73 L490.55,372.62 L490.80,372.76 L491.05,372.68 L491.30,372.32 L491.55,371.75 L491.80,371.37 L492.05,371.53 L492.30,371.95 L492.55,372.39 L492.80,372.77 L493.05,372.81 L493.30,372.69 L493.55,372.64 L493.80,373.29 L494.05,374.64 L494.30,372.68 L494.55,360.16 L494.80,349.97 L495.05,365.58 L495.30,382.80 L495.55,379.13 L495.80,373.43 L496.05,372.72 L496.30,373.24 L496.55,372.93 L496.80,372.93 L497.05,373.10 L497.30,373.03 L497.55,373.19 L497.80,372.84 L498.05,372.49 L498.30,372.29 L498.55,371.88 L498.80,371.27 L499.05,370.81 L499.30,370.11 L499.55,369.26 L499.80,368.38 L500.05,367.81 L500.30,367.46 L500.55,367.38 L500.80,367.92 L501.05,368.69 L501.30,369.54 L501.55,370.51 L501.80,371.05 L502.05,371.64 L502.30,372.00 L502.55,372.54 L502.80,372.78 L503.05,373.20 L503.30,373.42 L503.55,373.24 L503.80,372.96 L504.05,373.00 L504.30,372.90 L504.55,372.85 L504.80,372.64 L505.05,372.77 L505.30,372.79 L505.55,372.85 L505.80,372.88 L506.05,372.69 L506.30,372.31 L506.55,372.35 L506.80,372.31 L507.05,372.30 L507.30,372.55 L507.55,372.55 L507.80,372.77 L508.05,372.57 L508.30,372.25 L508.55,371.81 L508.80,371.67 L509.05,371.60 L509.30,372.25 L509.55,372.62 L509.80,372.61 L510.05,372.79 L510.30,372.84 L510.55,373.06 L510.80,373.49 L511.05,374.79 L511.30,372.21 L511.55,358.83 L511.80,347.70 L512.05,364.41 L512.30,382.54 L512.55,379.14 L512.80,373.76 L513.05,373.09 L513.30,372.99 L513.55,372.74 L513.80,372.78 L514.05,372.81 L514.30,373.06 L514.55,373.11 L514.80,372.67 L515.05,372.20 L515.30,372.04 L515.55,371.73 L515.80,371.14 L516.05,370.31 L516.30,369.59 L516.55,368.61 L516.80,367.77 L517.05,367.38 L517.30,367.14 L517.55,367.09 L517.80,367.36 L518.05,368.10 L518.30,369.32 L518.55,370.09 L518.80,371.17 L519.05,371.58 L519.30,371.97 L519.55,372.37 L519.80,372.37 L520.05,372.48 L520.30,372.29 L520.55,372.48 L520.80,372.70 L521.05,372.56 L521.30,372.59 L521.55,372.52 L521.80,372.14 L522.05,372.71 L522.30,372.78 L522.55,372.88 L522.80,372.88 L523.05,372.84 L523.30,373.19 L523.55,372.74 L523.80,372.64 L524.05,372.55 L524.30,372.50 L524.55,372.61 L524.80,372.39 L525.05,371.96 L525.30,371.41 L525.55,371.09 L525.80,371.08 L526.05,371.45 L526.30,372.18 L526.55,372.42 L526.80,372.76 L527.05,372.87 L527.30,372.78 L527.55,372.61 L527.80,373.13 L528.05,374.26 L528.30,371.71 L528.55,356.57 L528.80,344.36 L529.05,362.22 L529.30,381.56 L529.55,378.27 L529.80,373.15 L530.05,372.45 L530.30,372.14 L530.55,372.00 L530.80,372.17 L531.05,372.41 L531.30,372.23 L531.55,372.26 L531.80,372.13 L532.05,371.67 L532.30,371.54 L532.55,371.14 L532.80,370.94 L533.05,370.33 L533.30,369.59 L533.55,368.52 L533.80,367.80 L534.05,366.88 L534.30,366.70 L534.55,367.07 L534.80,367.28 L535.05,368.19 L535.30,369.29 L535.55,370.08 L535.80,371.01 L536.05,371.57 L536.30,371.87 L536.55,371.78 L536.80,371.81 L537.05,371.72 L537.30,372.30 L537.55,372.37 L537.80,372.35 L538.05,372.12 L538.30,372.47 L538.55,372.24 L538.80,372.52 L539.05,372.68 L539.30,372.63 L539.55,372.46 L539.80,372.43 L540.05,372.18 L540.30,372.32 L540.55,372.62 L540.80,372.72 L541.05,372.83 L541.30,372.60 L541.55,372.60 L541.80,372.36 L542.05,372.24 L542.30,372.27 L542.55,372.40 L542.80,371.84 L543.05,371.34 L543.30,370.89 L543.55,371.30 L543.80,371.62 L544.05,371.73 L544.30,371.69 L544.55,371.86 L544.80,371.89 L545.05,372.17 L545.30,372.95 L545.55,373.86 L545.80,367.33 L546.05,349.47 L546.20,344.61 L546.30,348.58 L546.55,372.73 L546.70,381.57 L546.80,381.97 L547.05,375.05 L547.30,372.34 L547.55,372.08 L547.80,372.20 L548.05,372.36 L548.30,372.19 L548.55,372.23 L548.80,372.43 L549.05,372.37 L549.30,372.42 L549.55,372.19 L549.80,371.75 L550.05,371.34 L550.30,370.47 L550.55,369.97 L550.80,369.08 L551.05,368.49 L551.30,367.48 L551.55,367.00 L551.80,366.89 L552.05,367.05 L552.30,367.66 L552.55,368.29 L552.80,368.99 L553.05,369.63 L553.30,370.32 L553.55,370.81 L553.80,371.32 L554.05,371.56 L554.30,371.65 L554.55,371.67 L554.80,371.46 L555.05,371.55 L555.30,371.75 L555.55,371.60 L555.80,371.67 L556.05,371.88 L556.30,371.82 L556.55,371.92 L556.80,371.89 L557.05,372.37 L557.30,372.57 L557.55,372.70 L557.80,372.47 L558.05,372.51 L558.30,372.41 L558.55,372.42 L558.80,372.26 L559.05,372.26 L559.30,372.10 L559.55,372.15 L559.80,372.45 L560.05,372.11 L560.30,371.76 L560.55,371.60 L560.80,371.29 L561.05,370.79 L561.30,370.85 L561.55,371.27 L561.80,371.81 L562.05,372.34 L562.30,372.27 L562.55,372.38 L562.80,372.37 L563.05,372.27 L563.30,373.12 L563.55,373.74 L563.80,366.86 L564.05,349.68 L564.20,344.73 L564.30,348.77 L564.55,372.63 L564.70,381.38 L564.80,381.72 L565.05,374.66 L565.30,371.91 L565.55,371.48 L565.80,371.87 L566.05,371.60 L566.30,371.70 L566.55,371.27 L566.80,371.34 L567.05,371.68 L567.30,371.59 L567.55,371.37 L567.80,371.13 L568.05,370.91 L568.30,370.58 L568.55,369.84 L568.80,368.66 L569.05,367.93 L569.30,367.39 L569.55,367.27 L569.80,367.03 L570.05,367.19 L570.30,367.57 L570.55,368.44 L570.80,369.57 L571.05,370.12 L571.30,370.79 L571.55,371.10 L571.80,371.34 L572.05,371.57 L572.30,371.82 L572.55,371.74 L572.80,371.76 L573.05,372.05 L573.30,372.13 L573.55,372.22 L573.80,372.24 L574.05,372.15 L574.30,372.18 L574.55,372.23 L574.80,372.17 L575.05,372.31 L575.30,372.23 L575.55,372.33 L575.80,372.26 L576.05,372.32 L576.30,372.12 L576.55,371.98 L576.80,371.76 L577.05,372.01 L577.30,372.08 L577.55,372.08 L577.80,372.15 L578.05,371.89 L578.30,371.73 L578.55,371.26 L578.80,370.44 L579.05,370.17 L579.30,370.21 L579.55,371.01 L579.80,371.33 L580.05,371.50 L580.30,371.82 L580.55,371.84 L580.80,371.62 L581.05,371.96 L581.30,373.06 L581.55,372.57 L581.80,360.53 L582.05,345.09 L582.10,344.31 L582.30,356.46 L582.55,379.03 L582.60,380.90 L582.80,378.93 L583.05,372.92 L583.30,371.70 L583.55,371.68 L583.80,372.15 L584.05,372.45 L584.30,372.61 L584.55,372.74 L584.80,372.37 L585.05,371.85 L585.30,371.87 L585.55,371.73 L585.80,371.40 L586.05,370.91 L586.30,370.40 L586.55,369.69 L586.80,368.82 L587.05,368.00 L587.30,367.20 L587.55,366.68 L587.80,366.87 L588.05,367.09 L588.30,368.05 L588.55,368.88 L588.80,369.65 L589.05,370.55 L589.30,370.98 L589.55,371.34 L589.80,371.53 L590.05,371.69 L590.30,371.89 L590.55,372.27 L590.80,372.28 L591.05,371.99 L591.30,371.80 L591.55,371.47 L591.80,371.65 L592.05,371.83 L592.30,371.87 L592.55,371.91 L592.80,371.97 L593.05,372.00 L593.30,372.06 L593.55,372.04 L593.80,371.80 L594.05,371.95 L594.30,372.14 L594.55,371.77 L594.80,371.71 L595.05,371.51 L595.30,371.64 L595.55,371.60 L595.80,371.86 L596.05,371.98 L596.30,371.65 L596.55,371.16 L596.80,370.55 L597.05,370.37 L597.30,370.32 L597.55,370.88 L597.80,371.07 L598.05,371.55 L598.30,371.73 L598.55,371.52 L598.80,371.42 L599.05,371.74 L599.30,373.03 L599.55,371.64 L599.80,359.66 L600.05,344.26 L600.10,343.84 L600.30,356.01 L600.55,378.83 L600.60,380.78 L600.80,379.06 L601.05,373.04 L601.30,371.59 L601.55,371.44 L601.80,371.27 L602.05,371.14 L602.30,371.17 L602.55,371.06 L602.80,371.44 L603.05,371.51 L603.30,371.57 L603.55,371.08 L603.80,370.80 L604.05,370.37 L604.30,369.83 L604.55,369.17 L604.80,368.17 L605.05,367.19 L605.30,366.72 L605.55,366.73 L605.80,366.99 L606.05,367.14 L606.30,367.55 L606.55,368.36 L606.80,369.26 L607.05,370.31 L607.30,370.80 L607.55,371.05 L607.80,371.51 L608.05,371.50 L608.30,371.42 L608.55,371.58 L608.80,371.55 L609.05,371.37 L609.30,371.36 L609.55,371.33 L609.80,371.33 L610.05,371.24 L610.30,371.40 L610.55,371.36 L610.80,371.29 L611.05,371.53 L611.30,371.36 L611.55,371.53 L611.80,371.63 L612.05,371.55 L612.30,371.58 L612.55,371.30 L612.80,371.39 L613.05,371.23 L613.30,371.13 L613.55,371.24 L613.80,371.14 L614.05,371.14 L614.30,371.02 L614.55,370.79 L614.80,370.38 L615.05,370.40 L615.30,370.50 L615.55,370.90 L615.80,371.38 L616.05,371.73 L616.30,371.80 L616.55,371.64 L616.80,371.46 L617.05,371.86 L617.30,373.33 L617.55,368.78 L617.80,352.18 L618.00,343.97 L618.05,345.19 L618.30,366.71 L618.50,380.90 L618.55,381.63 L618.80,376.05 L619.05,372.21 L619.30,371.68 L619.55,371.75 L619.80,371.66 L620.05,371.45 L620.30,371.27 L620.55,371.35 L620.80,371.35 L621.05,371.26 L621.30,371.07 L621.55,370.84 L621.80,370.66 L622.05,370.35 L622.30,369.59 L622.55,368.80 L622.80,367.57 L623.05,366.60 L623.30,365.95 L623.55,365.61 L623.80,365.94 L624.05,366.10 L624.30,367.04 L624.55,368.09 L624.80,369.36 L625.05,369.96 L625.30,370.58 L625.55,371.21 L625.80,371.55 L626.05,371.43 L626.30,371.41 L626.55,371.22 L626.80,371.27 L627.05,371.41 L627.30,371.64 L627.55,371.68 L627.80,371.77 L628.05,371.87 L628.30,371.62 L628.55,371.68 L628.80,371.78 L629.05,371.66 L629.30,371.42 L629.55,371.43 L629.80,371.43 L630.05,371.53 L630.30,371.17 L630.55,371.13 L630.80,371.52 L631.05,371.71 L631.30,371.59 L631.55,371.45 L631.80,371.25 L632.05,370.77 L632.30,370.25 L632.55,369.85 L632.80,369.61 L633.05,370.03 L633.30,370.61 L633.55,370.74 L633.80,370.87 L634.05,370.70 L634.30,370.83 L634.55,371.04 L634.80,371.79 L635.05,372.76 L635.30,366.23 L635.55,348.83 L635.70,343.78 L635.80,347.47 L636.05,371.06 L636.20,379.75 L636.30,380.60 L636.55,374.13 L636.80,371.56 L637.05,371.46 L637.30,371.32 L637.55,371.34 L637.80,371.22 L638.05,371.45 L638.30,370.97 L638.55,371.05 L638.80,370.90 L639.05,370.93 L639.30,370.91 L639.55,370.39 L639.80,370.09 L640.05,369.52 L640.30,368.32 L640.55,367.77 L640.80,366.71 L641.05,365.92 L641.30,365.92 L641.55,365.98 L641.80,366.57 L642.05,367.34 L642.30,368.04 L642.55,369.19 L642.80,370.13 L643.05,370.60 L643.30,371.19 L643.55,371.31 L643.80,371.41 L644.05,371.35 L644.30,371.10 L644.55,371.06 L644.80,370.91 L645.05,371.03 L645.30,371.08 L645.55,370.99 L645.80,371.25 L646.05,371.29 L646.30,371.58 L646.55,371.42 L646.80,371.29 L647.05,371.13 L647.30,371.17 L647.55,371.13 L647.80,371.13 L648.05,371.43 L648.30,371.51 L648.55,371.32 L648.80,371.35 L649.05,371.25 L649.30,371.17 L649.55,371.11 L649.80,371.11 L650.05,371.16 L650.30,371.14 L650.55,370.72 L650.80,370.04 L651.05,369.73 L651.30,369.82 L651.55,370.23 L651.80,370.46 L652.05,370.73 L652.30,370.55 L652.55,370.89 L652.80,371.06 L653.05,371.44 L653.30,372.45 L653.55,371.59 L653.80,359.54 L654.05,343.49 L654.10,342.91 L654.30,355.40 L654.55,377.76 L654.60,379.93 L654.80,378.33 L655.05,371.99 L655.30,370.96 L655.55,371.13 L655.80,371.22 L656.05,371.30 L656.30,371.51 L656.55,371.44 L656.80,371.57 L657.05,371.37 L657.30,371.07 L657.55,370.79 L657.80,370.30 L658.05,369.95 L658.30,369.22 L658.55,368.55 L658.80,367.75 L659.05,367.18 L659.30,366.73 L659.55,366.11 L659.80,365.97 L660.05,366.23 L660.30,366.73 L660.55,367.86 L660.80,368.87 L661.05,369.52 L661.30,369.84 L661.55,370.19 L661.80,370.51 L662.05,370.99 L662.30,370.82 L662.55,371.13 L662.80,370.86 L663.05,370.94 L663.30,370.74 L663.55,370.71 L663.80,370.33 L664.05,370.56 L664.30,370.63 L664.55,370.51 L664.80,370.22 L665.05,370.34 L665.30,370.45 L665.55,370.29 L665.80,370.50 L666.05,370.56 L666.30,370.42 L666.55,370.38 L666.80,370.05 L667.05,370.34 L667.30,370.62 L667.55,370.63 L667.80,370.42 L668.05,370.16 L668.30,369.89 L668.55,369.34 L668.80,369.13 L669.05,369.10 L669.30,369.76 L669.55,370.47 L669.80,370.64 L670.05,370.62 L670.30,370.17 L670.55,370.32 L670.80,370.64 L671.05,371.55 L671.30,372.10 L671.55,363.14 L671.80,346.49 L671.90,344.80 L672.05,352.18 L672.30,375.02 L672.40,379.69 L672.55,379.03 L672.80,372.33 L673.05,370.56 L673.30,370.44 L673.55,370.54 L673.80,370.75 L674.05,370.70 L674.30,370.49 L674.55,370.35 L674.80,370.54 L675.05,370.80 L675.30,370.58 L675.55,370.37 L675.80,369.80" fill="none" stroke="#e8353a" stroke-width="1.3" stroke-linejoin="round"/>
<path d="M457.30,415.02 L457.55,415.23 L457.80,415.02 L458.05,415.19 L458.30,415.10 L458.55,415.03 L458.80,415.36 L459.05,415.31 L459.30,415.24 L459.55,415.31 L459.80,415.44 L460.05,415.34 L460.30,415.37 L460.55,415.12 L460.80,415.03 L461.05,414.94 L461.30,414.71 L461.55,414.50 L461.80,414.27 L462.05,414.19 L462.30,413.72 L462.55,412.58 L462.80,411.12 L463.05,409.99 L463.30,410.52 L463.55,412.10 L463.80,413.70 L464.05,414.36 L464.30,414.62 L464.55,414.39 L464.80,414.51 L465.05,414.44 L465.30,412.03 L465.55,400.46 L465.80,389.16 L466.05,401.05 L466.30,414.58 L466.40,416.50 L466.55,416.80 L466.80,415.36 L467.05,415.11 L467.30,415.01 L467.55,414.89 L467.80,414.79 L468.05,414.65 L468.30,414.69 L468.55,414.59 L468.80,414.83 L469.05,414.48 L469.30,414.30 L469.55,414.11 L469.80,413.66 L470.05,413.84 L470.30,413.03 L470.55,412.51 L470.80,411.81 L471.05,411.41 L471.30,410.31 L471.55,409.94 L471.80,409.44 L472.05,409.36 L472.30,409.53 L472.55,410.22 L472.80,410.77 L473.05,411.62 L473.30,412.52 L473.55,413.55 L473.80,413.63 L474.05,414.34 L474.30,414.76 L474.55,414.79 L474.80,414.92 L475.05,414.86 L475.30,415.17 L475.55,415.16 L475.80,415.07 L476.05,414.99 L476.30,414.94 L476.55,414.90 L476.80,414.74 L477.05,415.13 L477.30,414.74 L477.55,414.14 L477.80,414.26 L478.05,414.36 L478.30,414.53 L478.55,414.56 L478.80,414.59 L479.05,414.71 L479.30,414.91 L479.55,414.82 L479.80,414.76 L480.05,415.12 L480.30,415.16 L480.55,414.93 L480.80,415.32 L481.05,415.36 L481.30,415.16 L481.55,414.89 L481.80,414.93 L482.05,414.77 L482.30,414.60 L482.55,414.42 L482.80,414.42 L483.05,414.70 L483.30,414.65 L483.55,414.43 L483.80,414.63 L484.05,414.68 L484.30,414.86 L484.55,415.07 L484.80,414.99 L485.05,414.93 L485.30,414.90 L485.55,414.69 L485.80,414.83 L486.05,415.07 L486.30,415.03 L486.55,414.85 L486.80,414.42 L487.05,413.35 L487.30,411.73 L487.55,410.36 L487.80,410.11 L488.05,411.27 L488.30,412.61 L488.55,413.83 L488.80,414.36 L489.05,414.35 L489.30,414.09 L489.55,414.45 L489.80,414.13 L490.05,406.38 L490.30,391.03 L490.40,388.76 L490.55,393.99 L490.80,410.36 L491.00,416.57 L491.05,416.87 L491.30,415.88 L491.55,414.95 L491.80,414.80 L492.05,414.54 L492.30,414.47 L492.55,414.48 L492.80,414.66 L493.05,414.72 L493.30,414.60 L493.55,414.67 L493.80,414.81 L494.05,414.66 L494.30,414.40 L494.55,414.07 L494.80,413.84 L495.05,413.37 L495.30,412.50 L495.55,411.79 L495.80,410.89 L496.05,410.05 L496.30,409.78 L496.55,409.68 L496.80,409.61 L497.05,410.03 L497.30,410.76 L497.55,411.40 L497.80,412.18 L498.05,413.04 L498.30,413.30 L498.55,413.86 L498.80,414.33 L499.05,414.61 L499.30,414.47 L499.55,414.62 L499.80,414.52 L500.05,414.67 L500.30,414.80 L500.55,414.82 L500.80,414.67 L501.05,414.58 L501.30,414.76 L501.55,414.60 L501.80,414.71 L502.05,414.80 L502.30,414.74 L502.55,415.16 L502.80,415.08 L503.05,415.39 L503.30,414.90 L503.55,414.47 L503.80,414.69 L504.05,414.81 L504.30,414.73 L504.55,414.72 L504.80,414.39 L505.05,414.34 L505.30,414.23 L505.55,414.29 L505.80,414.53 L506.05,414.57 L506.30,414.66 L506.55,414.55 L506.80,414.50 L507.05,414.56 L507.30,414.54 L507.55,414.79 L507.80,414.62 L508.05,414.96 L508.30,414.74 L508.55,414.91 L508.80,414.73 L509.05,415.01 L509.30,414.97 L509.55,414.98 L509.80,415.05 L510.05,414.85 L510.30,414.57 L510.55,413.93 L510.80,413.43 L511.05,411.92 L511.30,410.39 L511.55,409.99 L511.80,411.35 L512.05,412.57 L512.30,413.83 L512.55,414.32 L512.80,414.61 L513.05,414.35 L513.30,414.53 L513.55,414.59 L513.80,409.66 L514.05,395.58 L514.20,390.85 L514.30,393.05 L514.55,408.35 L514.80,416.42 L515.05,415.65 L515.30,414.66 L515.55,414.57 L515.80,414.55 L516.05,414.78 L516.30,414.58 L516.55,414.68 L516.80,414.67 L517.05,414.64 L517.30,414.70 L517.55,414.67 L517.80,414.61 L518.05,414.48 L518.30,414.54 L518.55,414.03 L518.80,413.63 L519.05,412.99 L519.30,412.07 L519.55,411.34 L519.80,410.37 L520.05,409.97 L520.30,409.47 L520.55,409.39 L520.80,409.80 L521.05,410.55 L521.30,411.43 L521.55,412.33 L521.80,412.96 L522.05,413.36 L522.30,413.92 L522.55,414.28 L522.80,414.30 L523.05,414.61 L523.30,414.69 L523.55,414.53 L523.80,414.63 L524.05,414.40 L524.30,414.29 L524.55,414.42 L524.80,414.18 L525.05,414.27 L525.30,414.10 L525.55,414.33 L525.80,414.25 L526.05,414.35 L526.30,414.13 L526.55,414.16 L526.80,414.41 L527.05,414.53 L527.30,414.21 L527.55,414.45 L527.80,414.63 L528.05,414.55 L528.30,414.80 L528.55,414.57 L528.80,414.56 L529.05,414.75 L529.30,414.95 L529.55,415.09 L529.80,414.80 L530.05,414.44 L530.30,414.53 L530.55,414.29 L530.80,414.32 L531.05,414.14 L531.30,414.41 L531.55,414.58 L531.80,414.67 L532.05,414.65 L532.30,414.64 L532.55,414.57 L532.80,414.63 L533.05,414.66 L533.30,414.71 L533.55,414.60 L533.80,414.92 L534.05,414.87 L534.30,414.91 L534.55,414.59 L534.80,413.25 L535.05,411.34 L535.30,410.38 L535.55,410.42 L535.80,411.75 L536.05,413.18 L536.30,414.11 L536.55,414.25 L536.80,414.36 L537.05,414.38 L537.30,414.64 L537.55,412.88 L537.80,402.88 L538.05,388.57 L538.10,387.72 L538.30,396.21 L538.55,412.20 L538.70,416.15 L538.80,416.57 L539.05,415.34 L539.30,414.66 L539.55,414.42 L539.80,414.31 L540.05,414.48 L540.30,414.38 L540.55,414.55 L540.80,414.71 L541.05,414.75 L541.30,414.84 L541.55,414.67 L541.80,414.51 L542.05,414.17 L542.30,413.76 L542.55,413.07 L542.80,412.47 L543.05,411.64 L543.30,410.69 L543.55,410.04 L543.80,409.52 L544.05,409.05 L544.30,409.18 L544.55,409.51 L544.80,410.13 L545.05,410.65 L545.30,411.15 L545.55,412.07 L545.80,412.83 L546.05,413.52 L546.30,413.98 L546.55,414.45 L546.80,414.50 L547.05,414.67 L547.30,414.51 L547.55,414.11 L547.80,414.11 L548.05,414.45 L548.30,414.16 L548.55,414.40 L548.80,414.29 L549.05,414.25 L549.30,414.30 L549.55,414.36 L549.80,414.21 L550.05,414.28 L550.30,414.39 L550.55,414.54 L550.80,414.39 L551.05,414.67 L551.30,414.96 L551.55,415.28 L551.80,414.87 L552.05,414.81 L552.30,414.41 L552.55,414.48 L552.80,414.57 L553.05,414.34 L553.30,414.08 L553.55,414.18 L553.80,414.34 L554.05,414.21 L554.30,414.21 L554.55,413.81 L554.80,413.81 L555.05,413.95 L555.30,414.07 L555.55,414.42 L555.80,414.22 L556.05,413.86 L556.30,414.05 L556.55,414.02 L556.80,414.14 L557.05,414.32 L557.30,414.44 L557.55,414.66 L557.80,414.71 L558.05,413.87 L558.30,412.80 L558.55,411.59 L558.80,410.26 L559.05,410.53 L559.30,411.79 L559.55,413.15 L559.80,414.31 L560.05,414.78 L560.30,414.73 L560.55,414.89 L560.80,414.80 L561.05,413.35 L561.30,403.79 L561.55,390.13 L561.60,389.37 L561.80,397.56 L562.05,412.73 L562.20,416.53 L562.30,416.99 L562.55,415.35 L562.80,414.55 L563.05,414.45 L563.30,414.39 L563.55,414.64 L563.80,414.86 L564.05,415.00 L564.30,414.93 L564.55,414.75 L564.80,414.80 L565.05,414.58 L565.30,414.45 L565.55,413.91 L565.80,413.56 L566.05,413.41 L566.30,412.62 L566.55,411.66 L566.80,410.90 L567.05,410.45 L567.30,410.00 L567.55,409.40 L567.80,409.11 L568.05,409.24 L568.30,409.54 L568.55,410.26 L568.80,411.02 L569.05,411.58 L569.30,412.26 L569.55,412.86 L569.80,413.20 L570.05,413.38 L570.30,413.83 L570.55,414.32 L570.80,414.31 L571.05,414.25 L571.30,414.36 L571.55,414.32 L571.80,414.18 L572.05,414.45 L572.30,414.24 L572.55,414.13 L572.80,414.05 L573.05,413.94 L573.30,413.97 L573.55,414.14 L573.80,414.43 L574.05,414.52 L574.30,414.48 L574.55,414.22 L574.80,414.23 L575.05,414.08 L575.30,414.10 L575.55,414.31 L575.80,414.34 L576.05,414.29 L576.30,414.16 L576.55,414.18 L576.80,414.22 L577.05,414.07 L577.30,414.02 L577.55,414.23 L577.80,413.95 L578.05,413.94 L578.30,413.80 L578.55,414.17 L578.80,414.29 L579.05,414.38 L579.30,414.43 L579.55,414.44 L579.80,414.46 L580.05,414.14 L580.30,414.21 L580.55,414.33 L580.80,414.06 L581.05,414.23 L581.30,414.28 L581.55,413.71 L581.80,412.88 L582.05,411.46 L582.30,409.95 L582.55,409.63 L582.80,410.40 L583.05,411.99 L583.30,413.27 L583.55,413.99 L583.80,414.18 L584.05,414.20 L584.30,414.50 L584.55,413.94 L584.80,408.35 L585.05,392.36 L585.20,387.15 L585.30,389.61 L585.55,406.34 L585.80,415.23 L586.05,414.88 L586.30,413.70 L586.55,413.80 L586.80,413.73 L587.05,413.60 L587.30,413.55 L587.55,413.99 L587.80,414.03 L588.05,413.95 L588.30,413.80 L588.55,413.64 L588.80,413.63 L589.05,413.64 L589.30,413.65 L589.55,413.48 L589.80,412.98 L590.05,412.17 L590.30,411.24 L590.55,410.05 L590.80,409.22 L591.05,408.84 L591.30,408.56 L591.55,408.73 L591.80,408.90 L592.05,409.75 L592.30,410.60 L592.55,411.43 L592.80,412.26 L593.05,412.49 L593.30,412.95 L593.55,413.21 L593.80,413.84 L594.05,413.96 L594.30,413.96 L594.55,414.18 L594.80,414.00 L595.05,414.29 L595.30,414.15 L595.55,414.14 L595.80,413.99 L596.05,414.17 L596.30,413.79 L596.55,413.98 L596.80,413.88 L597.05,413.94 L597.30,413.79 L597.55,413.90 L597.80,413.98 L598.05,414.12 L598.30,414.18 L598.55,414.29 L598.80,414.43 L599.05,414.31 L599.30,414.07 L599.55,413.86 L599.80,414.04 L600.05,413.99 L600.30,414.21 L600.55,414.20 L600.80,414.01 L601.05,414.20 L601.30,414.53 L601.55,414.42 L601.80,414.20 L602.05,414.04 L602.30,414.21 L602.55,414.09 L602.80,414.03 L603.05,414.17 L603.30,414.16 L603.55,414.17 L603.80,414.07 L604.05,413.97 L604.30,414.01 L604.55,413.96 L604.80,413.71 L605.05,412.69 L605.30,411.26 L605.55,410.00 L605.80,409.84 L606.05,411.09 L606.30,412.78 L606.55,413.80 L606.80,414.20 L607.05,414.11 L607.30,414.22 L607.55,414.40 L607.80,413.68 L608.05,405.69 L608.30,390.13 L608.40,388.29 L608.55,393.42 L608.80,410.19 L609.00,416.29 L609.05,416.46 L609.30,415.27 L609.55,414.21 L609.80,413.99 L610.05,414.05 L610.30,414.10 L610.55,414.07 L610.80,413.93 L611.05,414.00 L611.30,413.81 L611.55,413.97 L611.80,413.87 L612.05,413.80 L612.30,413.79 L612.55,413.61 L612.80,412.95 L613.05,412.39 L613.30,411.80 L613.55,410.83 L613.80,409.65 L614.05,409.04 L614.30,408.60 L614.55,408.53 L614.80,408.69 L615.05,409.16 L615.30,409.88 L615.55,410.91 L615.80,411.76 L616.05,412.53 L616.30,413.00 L616.55,413.62 L616.80,413.83 L617.05,414.11 L617.30,413.80 L617.55,413.93 L617.80,413.96 L618.05,413.90 L618.30,414.16 L618.55,414.21 L618.80,414.15 L619.05,414.03 L619.30,414.36 L619.55,414.43 L619.80,414.46 L620.05,414.24 L620.30,414.43 L620.55,414.44 L620.80,414.31 L621.05,414.24 L621.30,413.91 L621.55,414.04 L621.80,413.85 L622.05,414.03 L622.30,413.95 L622.55,413.85 L622.80,413.95 L623.05,414.00 L623.30,413.80 L623.55,413.83 L623.80,413.97 L624.05,413.93 L624.30,413.71 L624.55,413.73 L624.80,413.61 L625.05,413.59 L625.30,413.68 L625.55,413.73 L625.80,413.75 L626.05,413.51 L626.30,413.67 L626.55,413.69 L626.80,413.68 L627.05,413.77 L627.30,414.15 L627.55,413.89 L627.80,413.61 L628.05,413.72 L628.30,413.25 L628.55,412.61 L628.80,410.94 L629.05,409.54 L629.30,409.58 L629.55,410.91 L629.80,412.51 L630.05,413.60 L630.30,413.98 L630.55,414.00 L630.80,414.01 L631.05,414.44 L631.30,413.86 L631.55,405.87 L631.80,390.03 L631.90,387.81 L632.05,393.14 L632.30,410.01 L632.50,416.06 L632.55,416.41 L632.80,415.65 L633.05,414.64 L633.30,414.64 L633.55,414.24 L633.80,414.32 L634.05,414.00 L634.30,413.80 L634.55,413.71 L634.80,413.72 L635.05,413.76 L635.30,413.80 L635.55,413.75 L635.80,413.51 L636.05,413.71 L636.30,413.30 L636.55,412.80 L636.80,412.38 L637.05,411.63 L637.30,410.78 L637.55,409.98 L637.80,409.67 L638.05,409.09 L638.30,408.93 L638.55,409.33 L638.80,409.59 L639.05,410.27 L639.30,411.33 L639.55,411.99 L639.80,412.64 L640.05,413.22 L640.30,413.32 L640.55,413.59 L640.80,413.62 L641.05,413.52 L641.30,413.57 L641.55,413.64 L641.80,413.63 L642.05,413.57 L642.30,413.80 L642.55,414.02 L642.80,414.09 L643.05,414.03 L643.30,413.82 L643.55,413.69 L643.80,413.54 L644.05,413.64 L644.30,413.85 L644.55,414.01 L644.80,413.98 L645.05,413.90 L645.30,413.92 L645.55,413.93 L645.80,414.03 L646.05,414.25 L646.30,414.06 L646.55,414.38 L646.80,413.91 L647.05,413.60 L647.30,413.39 L647.55,413.30 L647.80,413.38 L648.05,413.83 L648.30,413.72 L648.55,413.93 L648.80,413.86 L649.05,413.88 L649.30,413.70 L649.55,414.12 L649.80,414.06 L650.05,413.91 L650.30,414.29 L650.55,414.24 L650.80,414.23 L651.05,414.12 L651.30,413.91 L651.55,413.55 L651.80,413.19 L652.05,412.59 L652.30,411.14 L652.55,409.73 L652.80,409.74 L653.05,410.69 L653.30,412.47 L653.55,413.45 L653.80,413.71 L654.05,413.95 L654.30,414.07 L654.55,414.18 L654.80,413.61 L655.05,406.44 L655.30,392.05 L655.40,389.68 L655.55,393.97 L655.80,410.13 L656.00,415.78 L656.05,416.01 L656.30,414.89 L656.55,413.88 L656.80,413.97 L657.05,413.72 L657.30,413.70 L657.55,413.50 L657.80,413.83 L658.05,413.77 L658.30,413.95 L658.55,414.13 L658.80,413.80 L659.05,413.65 L659.30,413.60 L659.55,413.31 L659.80,412.86 L660.05,412.45 L660.30,411.88 L660.55,410.93 L660.80,410.07 L661.05,409.44 L661.30,408.92 L661.55,408.67 L661.80,408.54 L662.05,409.27 L662.30,409.82 L662.55,410.62 L662.80,411.38 L663.05,412.09 L663.30,412.69 L663.55,412.97 L663.80,413.35 L664.05,413.76 L664.30,413.90 L664.55,414.04 L664.80,414.09 L665.05,414.04 L665.30,414.30 L665.55,414.08 L665.80,414.08 L666.05,414.19 L666.30,414.16 L666.55,413.89 L666.80,413.67 L667.05,413.96 L667.30,413.75 L667.55,413.75 L667.80,413.84 L668.05,413.84 L668.30,413.51 L668.55,413.23 L668.80,413.31 L669.05,413.26 L669.30,413.31 L669.55,413.41 L669.80,413.50 L670.05,413.32 L670.30,413.11 L670.55,413.39 L670.80,413.35 L671.05,413.22 L671.30,412.98 L671.55,413.22 L671.80,413.10 L672.05,413.04 L672.30,413.28 L672.55,413.42 L672.80,413.58 L673.05,413.39 L673.30,412.95 L673.55,412.93 L673.80,413.03 L674.05,413.05 L674.30,413.34 L674.55,413.47 L674.80,413.33 L675.05,413.48 L675.30,413.36 L675.55,412.87 L675.80,412.06" fill="none" stroke="#4f4f4f" stroke-width="1.3" stroke-linejoin="round"/>
<rect x="456.80" y="265.20" width="219.60" height="164.90" fill="none" stroke="#222" stroke-width="1.3" />
<line x1="456.70" y1="430.10" x2="456.70" y2="432.90" stroke="#222" stroke-width="1.0" />
<text x="456.70" y="443.90" font-size="10.6" text-anchor="middle" fill="#000"  class="arl">0</text>
<line x1="500.80" y1="430.10" x2="500.80" y2="432.90" stroke="#222" stroke-width="1.0" />
<text x="500.80" y="443.90" font-size="10.6" text-anchor="middle" fill="#000"  class="arl">2</text>
<line x1="544.90" y1="430.10" x2="544.90" y2="432.90" stroke="#222" stroke-width="1.0" />
<text x="544.90" y="443.90" font-size="10.6" text-anchor="middle" fill="#000"  class="arl">4</text>
<line x1="589.00" y1="430.10" x2="589.00" y2="432.90" stroke="#222" stroke-width="1.0" />
<text x="589.00" y="443.90" font-size="10.6" text-anchor="middle" fill="#000"  class="arl">6</text>
<line x1="633.10" y1="430.10" x2="633.10" y2="432.90" stroke="#222" stroke-width="1.0" />
<text x="633.10" y="443.90" font-size="10.6" text-anchor="middle" fill="#000"  class="arl">8</text>
<line x1="677.20" y1="430.10" x2="677.20" y2="432.90" stroke="#222" stroke-width="1.0" />
<text x="677.20" y="443.90" font-size="10.6" text-anchor="middle" fill="#000"  class="arl">10</text>
<text x="541.60" y="459.40" font-size="13.1" text-anchor="start" textLength="50.60" lengthAdjust="spacingAndGlyphs" fill="#000"  class="arl">Time (s)</text>
<text transform="translate(446.30,347.50) rotate(-90)" x="0" y="0" font-size="14.0" text-anchor="middle" textLength="84.50" lengthAdjust="spacingAndGlyphs" fill="#000"  class="arl">Voltage (mV)</text>
<line x1="558.00" y1="271.50" x2="577.50" y2="271.50" stroke="#2470dc" stroke-width="1.2" />
<text x="580.20" y="274.70" font-size="8.4" text-anchor="start" textLength="86.60" lengthAdjust="spacingAndGlyphs" fill="#000"  class="arl">Tachycardia (HR&gt;100)</text>
<line x1="558.00" y1="282.10" x2="577.50" y2="282.10" stroke="#e8353a" stroke-width="1.2" />
<text x="580.20" y="285.30" font-size="8.4" text-anchor="start" textLength="60.40" lengthAdjust="spacingAndGlyphs" fill="#000"  class="arl">Normal (HR-75)</text>
<line x1="558.00" y1="292.80" x2="577.50" y2="292.80" stroke="#4f4f4f" stroke-width="1.2" />
<text x="580.20" y="296.00" font-size="8.4" text-anchor="start" textLength="81.90" lengthAdjust="spacingAndGlyphs" fill="#000"  class="arl">Bradycardia (HR&lt;60)</text>
<rect x="170.03" y="510.22" width="19.60" height="177.28" fill="#0000ff" stroke="#222" stroke-width="0.8" />
<rect x="194.46" y="527.94" width="19.60" height="159.56" fill="#ffa500" stroke="#222" stroke-width="0.8" />
<rect x="218.89" y="543.27" width="19.60" height="144.23" fill="#008000" stroke="#222" stroke-width="0.8" />
<rect x="243.32" y="550.05" width="19.60" height="137.45" fill="#ff0000" stroke="#222" stroke-width="0.8" />
<rect x="267.75" y="556.83" width="19.60" height="130.67" fill="#0000ff" stroke="#222" stroke-width="0.8" />
<rect x="292.18" y="560.28" width="19.60" height="127.22" fill="#ffa500" stroke="#222" stroke-width="0.8" />
<rect x="316.61" y="561.35" width="19.60" height="126.15" fill="#008000" stroke="#222" stroke-width="0.8" />
<rect x="341.04" y="563.37" width="19.60" height="124.13" fill="#ff0000" stroke="#222" stroke-width="0.8" />
<rect x="365.47" y="568.48" width="19.60" height="119.02" fill="#0000ff" stroke="#222" stroke-width="0.8" />
<rect x="389.90" y="615.45" width="19.60" height="72.05" fill="#ffa500" stroke="#222" stroke-width="0.8" />
<rect x="414.33" y="616.28" width="19.60" height="71.22" fill="#008000" stroke="#222" stroke-width="0.8" />
<rect x="438.76" y="619.85" width="19.60" height="67.65" fill="#ff0000" stroke="#222" stroke-width="0.8" />
<rect x="463.19" y="620.68" width="19.60" height="66.82" fill="#0000ff" stroke="#222" stroke-width="0.8" />
<rect x="487.62" y="621.39" width="19.60" height="66.11" fill="#ffa500" stroke="#222" stroke-width="0.8" />
<rect x="512.05" y="622.46" width="19.60" height="65.04" fill="#008000" stroke="#222" stroke-width="0.8" />
<rect x="536.48" y="630.07" width="19.60" height="57.43" fill="#ff0000" stroke="#222" stroke-width="0.8" />
<line x1="179.83" y1="505.46" x2="179.83" y2="514.98" stroke="#111" stroke-width="0.9" />
<line x1="177.03" y1="505.46" x2="182.63" y2="505.46" stroke="#111" stroke-width="0.9" />
<line x1="177.03" y1="514.98" x2="182.63" y2="514.98" stroke="#111" stroke-width="0.9" />
<line x1="204.26" y1="527.34" x2="204.26" y2="528.53" stroke="#111" stroke-width="0.9" />
<line x1="201.46" y1="527.34" x2="207.06" y2="527.34" stroke="#111" stroke-width="0.9" />
<line x1="201.46" y1="528.53" x2="207.06" y2="528.53" stroke="#111" stroke-width="0.9" />
<line x1="228.69" y1="541.02" x2="228.69" y2="545.53" stroke="#111" stroke-width="0.9" />
<line x1="225.89" y1="541.02" x2="231.49" y2="541.02" stroke="#111" stroke-width="0.9" />
<line x1="225.89" y1="545.53" x2="231.49" y2="545.53" stroke="#111" stroke-width="0.9" />
<line x1="253.12" y1="549.46" x2="253.12" y2="550.65" stroke="#111" stroke-width="0.9" />
<line x1="250.32" y1="549.46" x2="255.92" y2="549.46" stroke="#111" stroke-width="0.9" />
<line x1="250.32" y1="550.65" x2="255.92" y2="550.65" stroke="#111" stroke-width="0.9" />
<line x1="277.55" y1="555.64" x2="277.55" y2="558.02" stroke="#111" stroke-width="0.9" />
<line x1="274.75" y1="555.64" x2="280.35" y2="555.64" stroke="#111" stroke-width="0.9" />
<line x1="274.75" y1="558.02" x2="280.35" y2="558.02" stroke="#111" stroke-width="0.9" />
<line x1="301.98" y1="559.68" x2="301.98" y2="560.87" stroke="#111" stroke-width="0.9" />
<line x1="299.18" y1="559.68" x2="304.78" y2="559.68" stroke="#111" stroke-width="0.9" />
<line x1="299.18" y1="560.87" x2="304.78" y2="560.87" stroke="#111" stroke-width="0.9" />
<line x1="326.41" y1="557.30" x2="326.41" y2="565.39" stroke="#111" stroke-width="0.9" />
<line x1="323.61" y1="557.30" x2="329.21" y2="557.30" stroke="#111" stroke-width="0.9" />
<line x1="323.61" y1="565.39" x2="329.21" y2="565.39" stroke="#111" stroke-width="0.9" />
<line x1="350.84" y1="562.18" x2="350.84" y2="564.56" stroke="#111" stroke-width="0.9" />
<line x1="348.04" y1="562.18" x2="353.64" y2="562.18" stroke="#111" stroke-width="0.9" />
<line x1="348.04" y1="564.56" x2="353.64" y2="564.56" stroke="#111" stroke-width="0.9" />
<line x1="375.27" y1="565.51" x2="375.27" y2="571.45" stroke="#111" stroke-width="0.9" />
<line x1="372.47" y1="565.51" x2="378.07" y2="565.51" stroke="#111" stroke-width="0.9" />
<line x1="372.47" y1="571.45" x2="378.07" y2="571.45" stroke="#111" stroke-width="0.9" />
<line x1="399.70" y1="614.26" x2="399.70" y2="616.64" stroke="#111" stroke-width="0.9" />
<line x1="396.90" y1="614.26" x2="402.50" y2="614.26" stroke="#111" stroke-width="0.9" />
<line x1="396.90" y1="616.64" x2="402.50" y2="616.64" stroke="#111" stroke-width="0.9" />
<line x1="424.13" y1="615.68" x2="424.13" y2="616.87" stroke="#111" stroke-width="0.9" />
<line x1="421.33" y1="615.68" x2="426.93" y2="615.68" stroke="#111" stroke-width="0.9" />
<line x1="421.33" y1="616.87" x2="426.93" y2="616.87" stroke="#111" stroke-width="0.9" />
<line x1="448.56" y1="619.01" x2="448.56" y2="620.68" stroke="#111" stroke-width="0.9" />
<line x1="445.76" y1="619.01" x2="451.36" y2="619.01" stroke="#111" stroke-width="0.9" />
<line x1="445.76" y1="620.68" x2="451.36" y2="620.68" stroke="#111" stroke-width="0.9" />
<line x1="472.99" y1="618.30" x2="472.99" y2="623.06" stroke="#111" stroke-width="0.9" />
<line x1="470.19" y1="618.30" x2="475.79" y2="618.30" stroke="#111" stroke-width="0.9" />
<line x1="470.19" y1="623.06" x2="475.79" y2="623.06" stroke="#111" stroke-width="0.9" />
<line x1="497.42" y1="618.66" x2="497.42" y2="624.13" stroke="#111" stroke-width="0.9" />
<line x1="494.62" y1="618.66" x2="500.22" y2="618.66" stroke="#111" stroke-width="0.9" />
<line x1="494.62" y1="624.13" x2="500.22" y2="624.13" stroke="#111" stroke-width="0.9" />
<line x1="521.85" y1="619.73" x2="521.85" y2="625.20" stroke="#111" stroke-width="0.9" />
<line x1="519.05" y1="619.73" x2="524.65" y2="619.73" stroke="#111" stroke-width="0.9" />
<line x1="519.05" y1="625.20" x2="524.65" y2="625.20" stroke="#111" stroke-width="0.9" />
<line x1="546.28" y1="626.98" x2="546.28" y2="633.16" stroke="#111" stroke-width="0.9" />
<line x1="543.48" y1="626.98" x2="549.08" y2="626.98" stroke="#111" stroke-width="0.9" />
<line x1="543.48" y1="633.16" x2="549.08" y2="633.16" stroke="#111" stroke-width="0.9" />
<line x1="150.50" y1="569.00" x2="575.20" y2="569.00" stroke="#ff0000" stroke-width="1.5" stroke-dasharray="3.8,2.0" stroke-opacity="0.72"/>
<line x1="150.50" y1="616.30" x2="575.20" y2="616.30" stroke="#00ffff" stroke-width="1.5" stroke-dasharray="6.6,1.8,1.3,1.8" stroke-opacity="0.85"/>
<rect x="150.50" y="497.30" width="424.70" height="190.10" fill="none" stroke="#8a8a8a" stroke-width="1.0" />
<line x1="148.00" y1="687.50" x2="150.50" y2="687.50" stroke="#444" stroke-width="0.8" />
<text x="146.40" y="692.60" font-size="14.2" text-anchor="end" textLength="9.45" lengthAdjust="spacingAndGlyphs" fill="#000"  class="mpl">0</text>
<line x1="148.00" y1="663.72" x2="150.50" y2="663.72" stroke="#444" stroke-width="0.8" />
<text x="146.40" y="668.82" font-size="14.2" text-anchor="end" textLength="18.90" lengthAdjust="spacingAndGlyphs" fill="#000"  class="mpl">20</text>
<line x1="148.00" y1="639.94" x2="150.50" y2="639.94" stroke="#444" stroke-width="0.8" />
<text x="146.40" y="645.04" font-size="14.2" text-anchor="end" textLength="18.90" lengthAdjust="spacingAndGlyphs" fill="#000"  class="mpl">40</text>
<line x1="148.00" y1="616.16" x2="150.50" y2="616.16" stroke="#444" stroke-width="0.8" />
<text x="146.40" y="621.26" font-size="14.2" text-anchor="end" textLength="18.90" lengthAdjust="spacingAndGlyphs" fill="#000"  class="mpl">60</text>
<line x1="148.00" y1="592.38" x2="150.50" y2="592.38" stroke="#444" stroke-width="0.8" />
<text x="146.40" y="597.48" font-size="14.2" text-anchor="end" textLength="18.90" lengthAdjust="spacingAndGlyphs" fill="#000"  class="mpl">80</text>
<line x1="148.00" y1="568.60" x2="150.50" y2="568.60" stroke="#444" stroke-width="0.8" />
<text x="146.40" y="573.70" font-size="14.2" text-anchor="end" textLength="28.35" lengthAdjust="spacingAndGlyphs" fill="#000"  class="mpl">100</text>
<line x1="148.00" y1="544.82" x2="150.50" y2="544.82" stroke="#444" stroke-width="0.8" />
<text x="146.40" y="549.92" font-size="14.2" text-anchor="end" textLength="28.35" lengthAdjust="spacingAndGlyphs" fill="#000"  class="mpl">120</text>
<line x1="148.00" y1="521.04" x2="150.50" y2="521.04" stroke="#444" stroke-width="0.8" />
<text x="146.40" y="526.14" font-size="14.2" text-anchor="end" textLength="28.35" lengthAdjust="spacingAndGlyphs" fill="#000"  class="mpl">140</text>
<line x1="148.00" y1="497.26" x2="150.50" y2="497.26" stroke="#444" stroke-width="0.8" />
<text x="146.40" y="502.36" font-size="14.2" text-anchor="end" textLength="28.35" lengthAdjust="spacingAndGlyphs" fill="#000"  class="mpl">160</text>
<line x1="155.40" y1="687.40" x2="155.40" y2="689.90" stroke="#444" stroke-width="0.8" />
<text x="155.40" y="702.10" font-size="14.2" text-anchor="middle" textLength="9.45" lengthAdjust="spacingAndGlyphs" fill="#000"  class="mpl">0</text>
<line x1="204.26" y1="687.40" x2="204.26" y2="689.90" stroke="#444" stroke-width="0.8" />
<text x="204.26" y="702.10" font-size="14.2" text-anchor="middle" textLength="9.45" lengthAdjust="spacingAndGlyphs" fill="#000"  class="mpl">2</text>
<line x1="253.12" y1="687.40" x2="253.12" y2="689.90" stroke="#444" stroke-width="0.8" />
<text x="253.12" y="702.10" font-size="14.2" text-anchor="middle" textLength="9.45" lengthAdjust="spacingAndGlyphs" fill="#000"  class="mpl">4</text>
<line x1="301.98" y1="687.40" x2="301.98" y2="689.90" stroke="#444" stroke-width="0.8" />
<text x="301.98" y="702.10" font-size="14.2" text-anchor="middle" textLength="9.45" lengthAdjust="spacingAndGlyphs" fill="#000"  class="mpl">6</text>
<line x1="350.84" y1="687.40" x2="350.84" y2="689.90" stroke="#444" stroke-width="0.8" />
<text x="350.84" y="702.10" font-size="14.2" text-anchor="middle" textLength="9.45" lengthAdjust="spacingAndGlyphs" fill="#000"  class="mpl">8</text>
<line x1="399.70" y1="687.40" x2="399.70" y2="689.90" stroke="#444" stroke-width="0.8" />
<text x="399.70" y="702.10" font-size="14.2" text-anchor="middle" textLength="18.90" lengthAdjust="spacingAndGlyphs" fill="#000"  class="mpl">10</text>
<line x1="448.56" y1="687.40" x2="448.56" y2="689.90" stroke="#444" stroke-width="0.8" />
<text x="448.56" y="702.10" font-size="14.2" text-anchor="middle" textLength="18.90" lengthAdjust="spacingAndGlyphs" fill="#000"  class="mpl">12</text>
<line x1="497.42" y1="687.40" x2="497.42" y2="689.90" stroke="#444" stroke-width="0.8" />
<text x="497.42" y="702.10" font-size="14.2" text-anchor="middle" textLength="18.90" lengthAdjust="spacingAndGlyphs" fill="#000"  class="mpl">14</text>
<line x1="546.28" y1="687.40" x2="546.28" y2="689.90" stroke="#444" stroke-width="0.8" />
<text x="546.28" y="702.10" font-size="14.2" text-anchor="middle" textLength="18.90" lengthAdjust="spacingAndGlyphs" fill="#000"  class="mpl">16</text>
<text transform="translate(109.70,592.30) rotate(-90)" x="0" y="0" font-size="16.6" text-anchor="middle" textLength="143.00" lengthAdjust="spacingAndGlyphs" fill="#000"  class="mpl">Mean HR (bpm)</text>
<text x="323.40" y="719.40" font-size="16.8" text-anchor="start" textLength="78.60" lengthAdjust="spacingAndGlyphs" fill="#000"  class="mpl">Subjects</text>
<rect x="361.8" y="503.4" width="207.8" height="41.3" rx="2" ry="2" fill="#fff" fill-opacity="0.85" stroke="#dcdcdc" stroke-width="0.8"/>
<line x1="366.40" y1="513.90" x2="391.00" y2="513.90" stroke="#ff0000" stroke-width="1.5" stroke-dasharray="4.2,1.8" stroke-opacity="0.72"/>
<line x1="366.40" y1="533.40" x2="391.00" y2="533.40" stroke="#00ffff" stroke-width="1.5" stroke-dasharray="7.2,1.6,1.3,1.6" stroke-opacity="0.85"/>
<text x="400.80" y="518.00" font-size="12.8" text-anchor="start" textLength="163.60" lengthAdjust="spacingAndGlyphs" fill="#000" xml:space="preserve" class="mpl">Tachycardia  &gt;  100 bpm</text>
<text x="400.80" y="537.20" font-size="12.8" text-anchor="start" textLength="155.00" lengthAdjust="spacingAndGlyphs" fill="#000" xml:space="preserve" class="mpl">Bradycardia  &lt;  60 bpm</text>
</svg>
</body></html>
